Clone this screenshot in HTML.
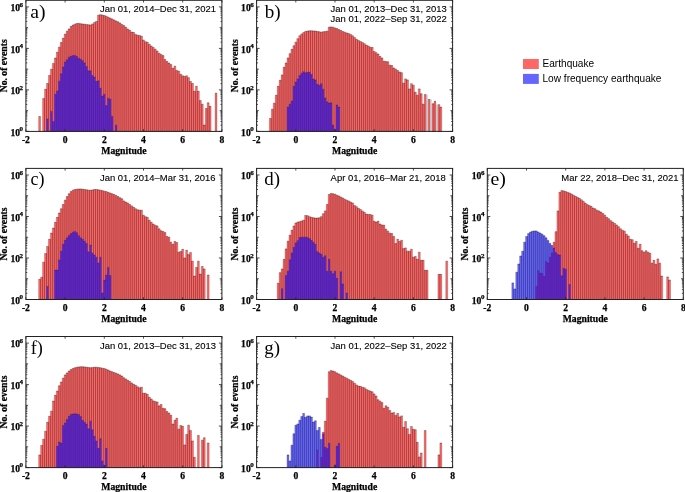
<!DOCTYPE html>
<html><head><meta charset="utf-8"><title>Magnitude histograms</title>
<style>html,body{margin:0;padding:0;background:#fff;width:685px;height:492px;overflow:hidden}svg{display:block;will-change:transform}</style>
</head><body>
<svg width="685" height="492" viewBox="0 0 685 492">
<style>.tb{font-family:"Liberation Serif";font-weight:bold;fill:#000;stroke:#000;stroke-width:0.25px}.ds{font-family:"Liberation Sans";fill:#000;stroke:#000;stroke-width:0.12px}</style>
<rect width="685" height="492" fill="#fff"/>
<path d="M38.64 131.4V116.5h1.96V131.4ZM42.56 131.4V98.6h1.96V131.4ZM44.52 131.4V89.3h1.96V131.4ZM46.48 131.4V83.5h1.96V131.4ZM48.44 131.4V75.4h1.96V131.4ZM50.4 131.4V69.2h1.96V131.4ZM52.36 131.4V63.4h1.96V131.4ZM54.32 131.4V58.05h1.96V131.4ZM56.28 131.4V52.2h1.96V131.4ZM58.24 131.4V47.2h1.96V131.4ZM60.2 131.4V42.5h1.96V131.4ZM62.16 131.4V38.3h1.96V131.4ZM64.12 131.4V34.2h1.96V131.4ZM66.08 131.4V31.2h1.96V131.4ZM68.04 131.4V29h1.96V131.4ZM70 131.4V26.5h1.96V131.4ZM71.96 131.4V25.1h1.96V131.4ZM73.92 131.4V24.2h1.96V131.4ZM75.88 131.4V23.5h1.96V131.4ZM77.84 131.4V23.4h1.96V131.4ZM79.8 131.4V23.7h1.96V131.4ZM81.76 131.4V24h1.96V131.4ZM83.72 131.4V24.2h1.96V131.4ZM85.68 131.4V24.55h1.96V131.4ZM87.64 131.4V24.8h1.96V131.4ZM89.6 131.4V24.9h1.96V131.4ZM91.56 131.4V23.9h1.96V131.4ZM93.52 131.4V22.4h1.96V131.4ZM95.48 131.4V21.4h1.96V131.4ZM97.44 131.4V15.2h1.96V131.4ZM99.4 131.4V14.7h1.96V131.4ZM101.36 131.4V15h1.96V131.4ZM103.32 131.4V15.6h1.96V131.4ZM105.28 131.4V16.2h1.96V131.4ZM107.24 131.4V17.2h1.96V131.4ZM109.2 131.4V18.1h1.96V131.4ZM111.16 131.4V18.9h1.96V131.4ZM113.12 131.4V19.9h1.96V131.4ZM115.08 131.4V20.9h1.96V131.4ZM117.04 131.4V21.8h1.96V131.4ZM119 131.4V23h1.96V131.4ZM120.96 131.4V24.4h1.96V131.4ZM122.92 131.4V25.6h1.96V131.4ZM124.88 131.4V27.3h1.96V131.4ZM126.84 131.4V29h1.96V131.4ZM128.8 131.4V30.3h1.96V131.4ZM130.76 131.4V32.1h1.96V131.4ZM132.72 131.4V32.5h1.96V131.4ZM134.68 131.4V34.6h1.96V131.4ZM136.64 131.4V35.2h1.96V131.4ZM138.6 131.4V35.4h1.96V131.4ZM140.56 131.4V36.25h1.96V131.4ZM142.52 131.4V40h1.96V131.4ZM144.48 131.4V41.7h1.96V131.4ZM146.44 131.4V42.3h1.96V131.4ZM148.4 131.4V44.3h1.96V131.4ZM150.36 131.4V46h1.96V131.4ZM152.32 131.4V47.5h1.96V131.4ZM154.28 131.4V49.2h1.96V131.4ZM156.24 131.4V51h1.96V131.4ZM158.2 131.4V53.2h1.96V131.4ZM160.16 131.4V54.4h1.96V131.4ZM162.12 131.4V55.6h1.96V131.4ZM164.08 131.4V59.5h1.96V131.4ZM166.04 131.4V61.5h1.96V131.4ZM168 131.4V63.1h1.96V131.4ZM169.96 131.4V64.4h1.96V131.4ZM171.92 131.4V68.3h1.96V131.4ZM173.88 131.4V66.2h1.96V131.4ZM175.84 131.4V70.4h1.96V131.4ZM177.8 131.4V71.25h1.96V131.4ZM179.76 131.4V74.2h1.96V131.4ZM181.72 131.4V75.8h1.96V131.4ZM183.68 131.4V76.5h1.96V131.4ZM185.64 131.4V75.8h1.96V131.4ZM187.6 131.4V77.7h1.96V131.4ZM189.56 131.4V81.5h1.96V131.4ZM191.52 131.4V83.5h1.96V131.4ZM193.48 131.4V91.25h1.96V131.4ZM195.44 131.4V86.25h1.96V131.4ZM197.4 131.4V91.25h1.96V131.4ZM199.36 131.4V100.6h1.96V131.4ZM201.32 131.4V104.2h1.96V131.4ZM203.28 131.4V125h1.96V131.4ZM205.24 131.4V108.5h1.96V131.4ZM207.2 131.4V102.8h1.96V131.4ZM209.16 131.4V106.3h1.96V131.4ZM215.04 131.4V93.2h1.96V131.4Z" fill="#ff0000" fill-opacity="0.6"/>
<mask id="mba" maskUnits="userSpaceOnUse" x="0" y="0" width="685" height="492"><rect width="685" height="492" fill="#fff"/><path d="M46.48 131.4V118.9h1.96V131.4ZM50.4 131.4V111.4h1.96V131.4ZM52.36 131.4V121.4h1.96V131.4ZM54.32 131.4V94.3h1.96V131.4ZM56.28 131.4V91h1.96V131.4ZM58.24 131.4V81.2h1.96V131.4ZM60.2 131.4V73.8h1.96V131.4ZM62.16 131.4V67h1.96V131.4ZM64.12 131.4V62.1h1.96V131.4ZM66.08 131.4V59.8h1.96V131.4ZM68.04 131.4V57.2h1.96V131.4ZM70 131.4V56.3h1.96V131.4ZM71.96 131.4V55.6h1.96V131.4ZM73.92 131.4V55.4h1.96V131.4ZM75.88 131.4V56.5h1.96V131.4ZM77.84 131.4V58.3h1.96V131.4ZM79.8 131.4V59.2h1.96V131.4ZM81.76 131.4V60.7h1.96V131.4ZM83.72 131.4V63h1.96V131.4ZM85.68 131.4V66.4h1.96V131.4ZM87.64 131.4V70.8h1.96V131.4ZM89.6 131.4V70.8h1.96V131.4ZM91.56 131.4V75.4h1.96V131.4ZM93.52 131.4V77.1h1.96V131.4ZM95.48 131.4V81.25h1.96V131.4ZM97.44 131.4V80.8h1.96V131.4ZM99.4 131.4V88.3h1.96V131.4ZM101.36 131.4V96h1.96V131.4ZM103.32 131.4V94.3h1.96V131.4ZM105.28 131.4V105.6h1.96V131.4ZM107.24 131.4V98.3h1.96V131.4ZM109.2 131.4V99.2h1.96V131.4ZM111.16 131.4V116.4h1.96V131.4ZM115.08 131.4V125.2h1.96V131.4Z" fill="#666"/></mask>
<path d="M38.64 131.4V116.5h1.96V131.4ZM42.56 131.4V98.6h1.96V131.4ZM44.52 131.4V89.3h1.96V131.4ZM46.48 131.4V83.5h1.96V131.4ZM48.44 131.4V75.4h1.96V131.4ZM50.4 131.4V69.2h1.96V131.4ZM52.36 131.4V63.4h1.96V131.4ZM54.32 131.4V58.05h1.96V131.4ZM56.28 131.4V52.2h1.96V131.4ZM58.24 131.4V47.2h1.96V131.4ZM60.2 131.4V42.5h1.96V131.4ZM62.16 131.4V38.3h1.96V131.4ZM64.12 131.4V34.2h1.96V131.4ZM66.08 131.4V31.2h1.96V131.4ZM68.04 131.4V29h1.96V131.4ZM70 131.4V26.5h1.96V131.4ZM71.96 131.4V25.1h1.96V131.4ZM73.92 131.4V24.2h1.96V131.4ZM75.88 131.4V23.5h1.96V131.4ZM77.84 131.4V23.4h1.96V131.4ZM79.8 131.4V23.7h1.96V131.4ZM81.76 131.4V24h1.96V131.4ZM83.72 131.4V24.2h1.96V131.4ZM85.68 131.4V24.55h1.96V131.4ZM87.64 131.4V24.8h1.96V131.4ZM89.6 131.4V24.9h1.96V131.4ZM91.56 131.4V23.9h1.96V131.4ZM93.52 131.4V22.4h1.96V131.4ZM95.48 131.4V21.4h1.96V131.4ZM97.44 131.4V15.2h1.96V131.4ZM99.4 131.4V14.7h1.96V131.4ZM101.36 131.4V15h1.96V131.4ZM103.32 131.4V15.6h1.96V131.4ZM105.28 131.4V16.2h1.96V131.4ZM107.24 131.4V17.2h1.96V131.4ZM109.2 131.4V18.1h1.96V131.4ZM111.16 131.4V18.9h1.96V131.4ZM113.12 131.4V19.9h1.96V131.4ZM115.08 131.4V20.9h1.96V131.4ZM117.04 131.4V21.8h1.96V131.4ZM119 131.4V23h1.96V131.4ZM120.96 131.4V24.4h1.96V131.4ZM122.92 131.4V25.6h1.96V131.4ZM124.88 131.4V27.3h1.96V131.4ZM126.84 131.4V29h1.96V131.4ZM128.8 131.4V30.3h1.96V131.4ZM130.76 131.4V32.1h1.96V131.4ZM132.72 131.4V32.5h1.96V131.4ZM134.68 131.4V34.6h1.96V131.4ZM136.64 131.4V35.2h1.96V131.4ZM138.6 131.4V35.4h1.96V131.4ZM140.56 131.4V36.25h1.96V131.4ZM142.52 131.4V40h1.96V131.4ZM144.48 131.4V41.7h1.96V131.4ZM146.44 131.4V42.3h1.96V131.4ZM148.4 131.4V44.3h1.96V131.4ZM150.36 131.4V46h1.96V131.4ZM152.32 131.4V47.5h1.96V131.4ZM154.28 131.4V49.2h1.96V131.4ZM156.24 131.4V51h1.96V131.4ZM158.2 131.4V53.2h1.96V131.4ZM160.16 131.4V54.4h1.96V131.4ZM162.12 131.4V55.6h1.96V131.4ZM164.08 131.4V59.5h1.96V131.4ZM166.04 131.4V61.5h1.96V131.4ZM168 131.4V63.1h1.96V131.4ZM169.96 131.4V64.4h1.96V131.4ZM171.92 131.4V68.3h1.96V131.4ZM173.88 131.4V66.2h1.96V131.4ZM175.84 131.4V70.4h1.96V131.4ZM177.8 131.4V71.25h1.96V131.4ZM179.76 131.4V74.2h1.96V131.4ZM181.72 131.4V75.8h1.96V131.4ZM183.68 131.4V76.5h1.96V131.4ZM185.64 131.4V75.8h1.96V131.4ZM187.6 131.4V77.7h1.96V131.4ZM189.56 131.4V81.5h1.96V131.4ZM191.52 131.4V83.5h1.96V131.4ZM193.48 131.4V91.25h1.96V131.4ZM195.44 131.4V86.25h1.96V131.4ZM197.4 131.4V91.25h1.96V131.4ZM199.36 131.4V100.6h1.96V131.4ZM201.32 131.4V104.2h1.96V131.4ZM203.28 131.4V125h1.96V131.4ZM205.24 131.4V108.5h1.96V131.4ZM207.2 131.4V102.8h1.96V131.4ZM209.16 131.4V106.3h1.96V131.4ZM215.04 131.4V93.2h1.96V131.4Z" fill="none" stroke="#000" stroke-width="0.35" stroke-opacity="0.55" mask="url(#mba)"/>
<path d="M38.64 116.5h1.96M42.56 98.6h1.96M44.52 89.3h1.96M46.48 83.5h1.96M48.44 75.4h1.96M50.4 69.2h1.96M52.36 63.4h1.96M54.32 58.05h1.96M56.28 52.2h1.96M58.24 47.2h1.96M60.2 42.5h1.96M62.16 38.3h1.96M64.12 34.2h1.96M66.08 31.2h1.96M68.04 29h1.96M70 26.5h1.96M71.96 25.1h1.96M73.92 24.2h1.96M75.88 23.5h1.96M77.84 23.4h1.96M79.8 23.7h1.96M81.76 24h1.96M83.72 24.2h1.96M85.68 24.55h1.96M87.64 24.8h1.96M89.6 24.9h1.96M91.56 23.9h1.96M93.52 22.4h1.96M95.48 21.4h1.96M97.44 15.2h1.96M99.4 14.7h1.96M101.36 15h1.96M103.32 15.6h1.96M105.28 16.2h1.96M107.24 17.2h1.96M109.2 18.1h1.96M111.16 18.9h1.96M113.12 19.9h1.96M115.08 20.9h1.96M117.04 21.8h1.96M119 23h1.96M120.96 24.4h1.96M122.92 25.6h1.96M124.88 27.3h1.96M126.84 29h1.96M128.8 30.3h1.96M130.76 32.1h1.96M132.72 32.5h1.96M134.68 34.6h1.96M136.64 35.2h1.96M138.6 35.4h1.96M140.56 36.25h1.96M142.52 40h1.96M144.48 41.7h1.96M146.44 42.3h1.96M148.4 44.3h1.96M150.36 46h1.96M152.32 47.5h1.96M154.28 49.2h1.96M156.24 51h1.96M158.2 53.2h1.96M160.16 54.4h1.96M162.12 55.6h1.96M164.08 59.5h1.96M166.04 61.5h1.96M168 63.1h1.96M169.96 64.4h1.96M171.92 68.3h1.96M173.88 66.2h1.96M175.84 70.4h1.96M177.8 71.25h1.96M179.76 74.2h1.96M181.72 75.8h1.96M183.68 76.5h1.96M185.64 75.8h1.96M187.6 77.7h1.96M189.56 81.5h1.96M191.52 83.5h1.96M193.48 91.25h1.96M195.44 86.25h1.96M197.4 91.25h1.96M199.36 100.6h1.96M201.32 104.2h1.96M203.28 125h1.96M205.24 108.5h1.96M207.2 102.8h1.96M209.16 106.3h1.96M215.04 93.2h1.96" fill="none" stroke="#000" stroke-width="0.45" stroke-opacity="0.4"/>
<mask id="ma" maskUnits="userSpaceOnUse" x="0" y="0" width="685" height="492"><rect width="685" height="492" fill="#fff"/><path d="M38.64 131.4V116.5h1.96V131.4ZM42.56 131.4V98.6h1.96V131.4ZM44.52 131.4V89.3h1.96V131.4ZM46.48 131.4V83.5h1.96V131.4ZM48.44 131.4V75.4h1.96V131.4ZM50.4 131.4V69.2h1.96V131.4ZM52.36 131.4V63.4h1.96V131.4ZM54.32 131.4V58.05h1.96V131.4ZM56.28 131.4V52.2h1.96V131.4ZM58.24 131.4V47.2h1.96V131.4ZM60.2 131.4V42.5h1.96V131.4ZM62.16 131.4V38.3h1.96V131.4ZM64.12 131.4V34.2h1.96V131.4ZM66.08 131.4V31.2h1.96V131.4ZM68.04 131.4V29h1.96V131.4ZM70 131.4V26.5h1.96V131.4ZM71.96 131.4V25.1h1.96V131.4ZM73.92 131.4V24.2h1.96V131.4ZM75.88 131.4V23.5h1.96V131.4ZM77.84 131.4V23.4h1.96V131.4ZM79.8 131.4V23.7h1.96V131.4ZM81.76 131.4V24h1.96V131.4ZM83.72 131.4V24.2h1.96V131.4ZM85.68 131.4V24.55h1.96V131.4ZM87.64 131.4V24.8h1.96V131.4ZM89.6 131.4V24.9h1.96V131.4ZM91.56 131.4V23.9h1.96V131.4ZM93.52 131.4V22.4h1.96V131.4ZM95.48 131.4V21.4h1.96V131.4ZM97.44 131.4V15.2h1.96V131.4ZM99.4 131.4V14.7h1.96V131.4ZM101.36 131.4V15h1.96V131.4ZM103.32 131.4V15.6h1.96V131.4ZM105.28 131.4V16.2h1.96V131.4ZM107.24 131.4V17.2h1.96V131.4ZM109.2 131.4V18.1h1.96V131.4ZM111.16 131.4V18.9h1.96V131.4ZM113.12 131.4V19.9h1.96V131.4ZM115.08 131.4V20.9h1.96V131.4ZM117.04 131.4V21.8h1.96V131.4ZM119 131.4V23h1.96V131.4ZM120.96 131.4V24.4h1.96V131.4ZM122.92 131.4V25.6h1.96V131.4ZM124.88 131.4V27.3h1.96V131.4ZM126.84 131.4V29h1.96V131.4ZM128.8 131.4V30.3h1.96V131.4ZM130.76 131.4V32.1h1.96V131.4ZM132.72 131.4V32.5h1.96V131.4ZM134.68 131.4V34.6h1.96V131.4ZM136.64 131.4V35.2h1.96V131.4ZM138.6 131.4V35.4h1.96V131.4ZM140.56 131.4V36.25h1.96V131.4ZM142.52 131.4V40h1.96V131.4ZM144.48 131.4V41.7h1.96V131.4ZM146.44 131.4V42.3h1.96V131.4ZM148.4 131.4V44.3h1.96V131.4ZM150.36 131.4V46h1.96V131.4ZM152.32 131.4V47.5h1.96V131.4ZM154.28 131.4V49.2h1.96V131.4ZM156.24 131.4V51h1.96V131.4ZM158.2 131.4V53.2h1.96V131.4ZM160.16 131.4V54.4h1.96V131.4ZM162.12 131.4V55.6h1.96V131.4ZM164.08 131.4V59.5h1.96V131.4ZM166.04 131.4V61.5h1.96V131.4ZM168 131.4V63.1h1.96V131.4ZM169.96 131.4V64.4h1.96V131.4ZM171.92 131.4V68.3h1.96V131.4ZM173.88 131.4V66.2h1.96V131.4ZM175.84 131.4V70.4h1.96V131.4ZM177.8 131.4V71.25h1.96V131.4ZM179.76 131.4V74.2h1.96V131.4ZM181.72 131.4V75.8h1.96V131.4ZM183.68 131.4V76.5h1.96V131.4ZM185.64 131.4V75.8h1.96V131.4ZM187.6 131.4V77.7h1.96V131.4ZM189.56 131.4V81.5h1.96V131.4ZM191.52 131.4V83.5h1.96V131.4ZM193.48 131.4V91.25h1.96V131.4ZM195.44 131.4V86.25h1.96V131.4ZM197.4 131.4V91.25h1.96V131.4ZM199.36 131.4V100.6h1.96V131.4ZM201.32 131.4V104.2h1.96V131.4ZM203.28 131.4V125h1.96V131.4ZM205.24 131.4V108.5h1.96V131.4ZM207.2 131.4V102.8h1.96V131.4ZM209.16 131.4V106.3h1.96V131.4ZM215.04 131.4V93.2h1.96V131.4Z" fill="#444" stroke="#444" stroke-width="0.4"/></mask>
<path d="M46.48 131.4V118.9h1.96V131.4ZM50.4 131.4V111.4h1.96V131.4ZM52.36 131.4V121.4h1.96V131.4ZM54.32 131.4V94.3h1.96V131.4ZM56.28 131.4V91h1.96V131.4ZM58.24 131.4V81.2h1.96V131.4ZM60.2 131.4V73.8h1.96V131.4ZM62.16 131.4V67h1.96V131.4ZM64.12 131.4V62.1h1.96V131.4ZM66.08 131.4V59.8h1.96V131.4ZM68.04 131.4V57.2h1.96V131.4ZM70 131.4V56.3h1.96V131.4ZM71.96 131.4V55.6h1.96V131.4ZM73.92 131.4V55.4h1.96V131.4ZM75.88 131.4V56.5h1.96V131.4ZM77.84 131.4V58.3h1.96V131.4ZM79.8 131.4V59.2h1.96V131.4ZM81.76 131.4V60.7h1.96V131.4ZM83.72 131.4V63h1.96V131.4ZM85.68 131.4V66.4h1.96V131.4ZM87.64 131.4V70.8h1.96V131.4ZM89.6 131.4V70.8h1.96V131.4ZM91.56 131.4V75.4h1.96V131.4ZM93.52 131.4V77.1h1.96V131.4ZM95.48 131.4V81.25h1.96V131.4ZM97.44 131.4V80.8h1.96V131.4ZM99.4 131.4V88.3h1.96V131.4ZM101.36 131.4V96h1.96V131.4ZM103.32 131.4V94.3h1.96V131.4ZM105.28 131.4V105.6h1.96V131.4ZM107.24 131.4V98.3h1.96V131.4ZM109.2 131.4V99.2h1.96V131.4ZM111.16 131.4V116.4h1.96V131.4ZM115.08 131.4V125.2h1.96V131.4Z" fill="#0000ff" fill-opacity="0.6"/>
<path d="M46.48 131.4V118.9h1.96V131.4ZM50.4 131.4V111.4h1.96V131.4ZM52.36 131.4V121.4h1.96V131.4ZM54.32 131.4V94.3h1.96V131.4ZM56.28 131.4V91h1.96V131.4ZM58.24 131.4V81.2h1.96V131.4ZM60.2 131.4V73.8h1.96V131.4ZM62.16 131.4V67h1.96V131.4ZM64.12 131.4V62.1h1.96V131.4ZM66.08 131.4V59.8h1.96V131.4ZM68.04 131.4V57.2h1.96V131.4ZM70 131.4V56.3h1.96V131.4ZM71.96 131.4V55.6h1.96V131.4ZM73.92 131.4V55.4h1.96V131.4ZM75.88 131.4V56.5h1.96V131.4ZM77.84 131.4V58.3h1.96V131.4ZM79.8 131.4V59.2h1.96V131.4ZM81.76 131.4V60.7h1.96V131.4ZM83.72 131.4V63h1.96V131.4ZM85.68 131.4V66.4h1.96V131.4ZM87.64 131.4V70.8h1.96V131.4ZM89.6 131.4V70.8h1.96V131.4ZM91.56 131.4V75.4h1.96V131.4ZM93.52 131.4V77.1h1.96V131.4ZM95.48 131.4V81.25h1.96V131.4ZM97.44 131.4V80.8h1.96V131.4ZM99.4 131.4V88.3h1.96V131.4ZM101.36 131.4V96h1.96V131.4ZM103.32 131.4V94.3h1.96V131.4ZM105.28 131.4V105.6h1.96V131.4ZM107.24 131.4V98.3h1.96V131.4ZM109.2 131.4V99.2h1.96V131.4ZM111.16 131.4V116.4h1.96V131.4ZM115.08 131.4V125.2h1.96V131.4Z" fill="none" stroke="#000" stroke-width="0.35" stroke-opacity="0.55" mask="url(#ma)"/>
<path d="M46.48 118.9h1.96M50.4 111.4h1.96M52.36 121.4h1.96M54.32 94.3h1.96M56.28 91h1.96M58.24 81.2h1.96M60.2 73.8h1.96M62.16 67h1.96M64.12 62.1h1.96M66.08 59.8h1.96M68.04 57.2h1.96M70 56.3h1.96M71.96 55.6h1.96M73.92 55.4h1.96M75.88 56.5h1.96M77.84 58.3h1.96M79.8 59.2h1.96M81.76 60.7h1.96M83.72 63h1.96M85.68 66.4h1.96M87.64 70.8h1.96M89.6 70.8h1.96M91.56 75.4h1.96M93.52 77.1h1.96M95.48 81.25h1.96M97.44 80.8h1.96M99.4 88.3h1.96M101.36 96h1.96M103.32 94.3h1.96M105.28 105.6h1.96M107.24 98.3h1.96M109.2 99.2h1.96M111.16 116.4h1.96M115.08 125.2h1.96" fill="none" stroke="#000" stroke-width="0.45" stroke-opacity="0.4"/>
<rect x="25.9" y="0.3" width="196" height="131.1" fill="none" stroke="#222" stroke-width="1"/>
<path d="M25.9 131.4v-2.2M25.9 0.3v2.2M65.1 131.4v-2.2M65.1 0.3v2.2M104.3 131.4v-2.2M104.3 0.3v2.2M143.5 131.4v-2.2M143.5 0.3v2.2M182.7 131.4v-2.2M182.7 0.3v2.2M221.9 131.4v-2.2M221.9 0.3v2.2M25.9 131.4h3.0M221.9 131.4h-3.0M25.9 125.15h1.4M221.9 125.15h-1.4M25.9 121.5h1.4M221.9 121.5h-1.4M25.9 118.91h1.4M221.9 118.91h-1.4M25.9 116.9h1.4M221.9 116.9h-1.4M25.9 115.25h1.4M221.9 115.25h-1.4M25.9 113.86h1.4M221.9 113.86h-1.4M25.9 112.66h1.4M221.9 112.66h-1.4M25.9 111.6h1.4M221.9 111.6h-1.4M25.9 110.65h2.2M221.9 110.65h-2.2M25.9 104.4h1.4M221.9 104.4h-1.4M25.9 100.75h1.4M221.9 100.75h-1.4M25.9 98.16h1.4M221.9 98.16h-1.4M25.9 96.15h1.4M221.9 96.15h-1.4M25.9 94.5h1.4M221.9 94.5h-1.4M25.9 93.11h1.4M221.9 93.11h-1.4M25.9 91.91h1.4M221.9 91.91h-1.4M25.9 90.85h1.4M221.9 90.85h-1.4M25.9 89.9h3.0M221.9 89.9h-3.0M25.9 83.65h1.4M221.9 83.65h-1.4M25.9 80h1.4M221.9 80h-1.4M25.9 77.41h1.4M221.9 77.41h-1.4M25.9 75.4h1.4M221.9 75.4h-1.4M25.9 73.75h1.4M221.9 73.75h-1.4M25.9 72.36h1.4M221.9 72.36h-1.4M25.9 71.16h1.4M221.9 71.16h-1.4M25.9 70.1h1.4M221.9 70.1h-1.4M25.9 69.15h2.2M221.9 69.15h-2.2M25.9 62.9h1.4M221.9 62.9h-1.4M25.9 59.25h1.4M221.9 59.25h-1.4M25.9 56.66h1.4M221.9 56.66h-1.4M25.9 54.65h1.4M221.9 54.65h-1.4M25.9 53h1.4M221.9 53h-1.4M25.9 51.61h1.4M221.9 51.61h-1.4M25.9 50.41h1.4M221.9 50.41h-1.4M25.9 49.35h1.4M221.9 49.35h-1.4M25.9 48.4h3.0M221.9 48.4h-3.0M25.9 42.15h1.4M221.9 42.15h-1.4M25.9 38.5h1.4M221.9 38.5h-1.4M25.9 35.91h1.4M221.9 35.91h-1.4M25.9 33.9h1.4M221.9 33.9h-1.4M25.9 32.25h1.4M221.9 32.25h-1.4M25.9 30.86h1.4M221.9 30.86h-1.4M25.9 29.66h1.4M221.9 29.66h-1.4M25.9 28.6h1.4M221.9 28.6h-1.4M25.9 27.65h2.2M221.9 27.65h-2.2M25.9 21.4h1.4M221.9 21.4h-1.4M25.9 17.75h1.4M221.9 17.75h-1.4M25.9 15.16h1.4M221.9 15.16h-1.4M25.9 13.15h1.4M221.9 13.15h-1.4M25.9 11.5h1.4M221.9 11.5h-1.4M25.9 10.11h1.4M221.9 10.11h-1.4M25.9 8.91h1.4M221.9 8.91h-1.4M25.9 7.85h1.4M221.9 7.85h-1.4M25.9 6.9h3.0M221.9 6.9h-3.0" stroke="#222" stroke-width="0.8" fill="none"/>
<g class="tb" font-size="9.6"><text x="25.9" y="142.7" text-anchor="middle">-2</text><text x="65.1" y="142.7" text-anchor="middle">0</text><text x="104.3" y="142.7" text-anchor="middle">2</text><text x="143.5" y="142.7" text-anchor="middle">4</text><text x="182.7" y="142.7" text-anchor="middle">6</text><text x="221.9" y="142.7" text-anchor="middle">8</text><text x="20" y="135.7" text-anchor="end">10</text><text x="19.6" y="131.1" font-size="7">0</text><text x="20" y="94.2" text-anchor="end">10</text><text x="19.6" y="89.6" font-size="7">2</text><text x="20" y="52.7" text-anchor="end">10</text><text x="19.6" y="48.1" font-size="7">4</text><text x="20" y="11.2" text-anchor="end">10</text><text x="19.6" y="6.6" font-size="7">6</text></g>
<text x="123.9" y="153.5" text-anchor="middle" class="tb" font-size="9.7">Magnitude</text>
<text transform="translate(6.8,65.85) rotate(-90)" text-anchor="middle" class="tb" font-size="9.7">No. of events</text>
<text transform="translate(30.3,18.4) scale(1.08,1)" font-family="Liberation Serif" font-size="18.2">a)</text>
<text transform="translate(99.9,12.45) scale(0.957,1)" text-anchor="start" class="ds" font-size="9.9">Jan 01, 2014–Dec 31, 2021</text>
<path d="M426.14 131.4V94.5h1.96V131.4ZM430.06 131.4V99.3h1.96V131.4ZM435.94 131.4V104.6h1.96V131.4Z" fill="#d9dde2"/>
<path d="M269.34 131.4V118.51h1.96V131.4ZM271.3 131.4V109.21h1.96V131.4ZM273.26 131.4V103.2h1.96V131.4ZM275.22 131.4V95.19h1.96V131.4ZM277.18 131.4V86.32h1.96V131.4ZM279.14 131.4V80.31h1.96V131.4ZM281.1 131.4V74.88h1.96V131.4ZM283.06 131.4V67.24h1.96V131.4ZM285.02 131.4V62.95h1.96V131.4ZM286.98 131.4V57.94h1.96V131.4ZM288.94 131.4V53.65h1.96V131.4ZM290.9 131.4V49.36h1.96V131.4ZM292.86 131.4V45.78h1.96V131.4ZM294.82 131.4V42.2h1.96V131.4ZM296.78 131.4V38.63h1.96V131.4ZM298.74 131.4V35.77h1.96V131.4ZM300.7 131.4V33.91h1.96V131.4ZM302.66 131.4V32.62h1.96V131.4ZM304.62 131.4V31.47h1.96V131.4ZM306.58 131.4V31.05h1.96V131.4ZM308.54 131.4V30.76h1.96V131.4ZM310.5 131.4V30.76h1.96V131.4ZM312.46 131.4V30.9h1.96V131.4ZM314.42 131.4V31.05h1.96V131.4ZM316.38 131.4V31.47h1.96V131.4ZM318.34 131.4V31.76h1.96V131.4ZM320.3 131.4V32.19h1.96V131.4ZM322.26 131.4V31.76h1.96V131.4ZM324.22 131.4V31.47h1.96V131.4ZM326.18 131.4V31.19h1.96V131.4ZM328.14 131.4V27.18h1.96V131.4ZM330.1 131.4V26.9h1.96V131.4ZM332.06 131.4V27.18h1.96V131.4ZM334.02 131.4V27.9h1.96V131.4ZM335.98 131.4V28.61h1.96V131.4ZM337.94 131.4V29.61h1.96V131.4ZM339.9 131.4V30.47h1.96V131.4ZM341.86 131.4V31.47h1.96V131.4ZM343.82 131.4V32.19h1.96V131.4ZM345.78 131.4V32.91h1.96V131.4ZM347.74 131.4V33.62h1.96V131.4ZM349.7 131.4V34.62h1.96V131.4ZM351.66 131.4V35.77h1.96V131.4ZM353.62 131.4V37.48h1.96V131.4ZM355.58 131.4V39.34h1.96V131.4ZM357.54 131.4V40.49h1.96V131.4ZM359.5 131.4V41.49h1.96V131.4ZM361.46 131.4V42.49h1.96V131.4ZM363.42 131.4V43.64h1.96V131.4ZM365.38 131.4V45.07h1.96V131.4ZM367.34 131.4V46.07h1.96V131.4ZM369.3 131.4V47.21h1.96V131.4ZM371.26 131.4V47.5h1.96V131.4ZM373.22 131.4V51.5h1.96V131.4ZM375.18 131.4V52.65h1.96V131.4ZM377.14 131.4V54.08h1.96V131.4ZM379.1 131.4V56.51h1.96V131.4ZM381.06 131.4V57.94h1.96V131.4ZM383.02 131.4V61.23h1.96V131.4ZM384.98 131.4V61.52h1.96V131.4ZM386.94 131.4V61.8h1.96V131.4ZM388.9 131.4V65.15h1.96V131.4ZM390.86 131.4V65.58h1.96V131.4ZM392.82 131.4V68.01h1.96V131.4ZM394.78 131.4V69.15h1.96V131.4ZM396.74 131.4V70.58h1.96V131.4ZM398.7 131.4V72.01h1.96V131.4ZM400.66 131.4V72.73h1.96V131.4ZM402.62 131.4V83.17h1.96V131.4ZM404.58 131.4V78.88h1.96V131.4ZM406.54 131.4V79.88h1.96V131.4ZM408.5 131.4V88.9h1.96V131.4ZM410.46 131.4V83.75h1.96V131.4ZM412.42 131.4V85.18h1.96V131.4ZM414.38 131.4V92.33h1.96V131.4ZM416.34 131.4V95.19h1.96V131.4ZM418.3 131.4V88.9h1.96V131.4ZM420.26 131.4V93.76h1.96V131.4ZM422.22 131.4V104.2h1.96V131.4ZM424.18 131.4V94.62h1.96V131.4ZM428.1 131.4V99.48h1.96V131.4ZM432.02 131.4V103.78h1.96V131.4ZM433.98 131.4V101.34h1.96V131.4ZM437.9 131.4V104.63h1.96V131.4ZM439.86 131.4V107.07h1.96V131.4Z" fill="#ff0000" fill-opacity="0.6"/>
<mask id="mbb" maskUnits="userSpaceOnUse" x="0" y="0" width="685" height="492"><rect width="685" height="492" fill="#fff"/><path d="M286.98 131.4V107.07h1.96V131.4ZM288.94 131.4V104.2h1.96V131.4ZM290.9 131.4V100.91h1.96V131.4ZM292.86 131.4V86.32h1.96V131.4ZM294.82 131.4V82.03h1.96V131.4ZM296.78 131.4V78.88h1.96V131.4ZM298.74 131.4V75.59h1.96V131.4ZM300.7 131.4V73.16h1.96V131.4ZM302.66 131.4V71.73h1.96V131.4ZM304.62 131.4V72.73h1.96V131.4ZM306.58 131.4V72.3h1.96V131.4ZM308.54 131.4V72.3h1.96V131.4ZM310.5 131.4V74.59h1.96V131.4ZM312.46 131.4V78.88h1.96V131.4ZM314.42 131.4V79.88h1.96V131.4ZM316.38 131.4V84.18h1.96V131.4ZM318.34 131.4V85.18h1.96V131.4ZM320.3 131.4V83.75h1.96V131.4ZM322.26 131.4V89.18h1.96V131.4ZM324.22 131.4V98.05h1.96V131.4ZM326.18 131.4V101.77h1.96V131.4ZM328.14 131.4V103.06h1.96V131.4ZM330.1 131.4V102.77h1.96V131.4ZM332.06 131.4V124.95h1.96V131.4ZM334.02 131.4V129.24h1.96V131.4ZM335.98 131.4V104.92h1.96V131.4ZM337.94 131.4V107.07h1.96V131.4Z" fill="#666"/></mask>
<path d="M269.34 131.4V118.51h1.96V131.4ZM271.3 131.4V109.21h1.96V131.4ZM273.26 131.4V103.2h1.96V131.4ZM275.22 131.4V95.19h1.96V131.4ZM277.18 131.4V86.32h1.96V131.4ZM279.14 131.4V80.31h1.96V131.4ZM281.1 131.4V74.88h1.96V131.4ZM283.06 131.4V67.24h1.96V131.4ZM285.02 131.4V62.95h1.96V131.4ZM286.98 131.4V57.94h1.96V131.4ZM288.94 131.4V53.65h1.96V131.4ZM290.9 131.4V49.36h1.96V131.4ZM292.86 131.4V45.78h1.96V131.4ZM294.82 131.4V42.2h1.96V131.4ZM296.78 131.4V38.63h1.96V131.4ZM298.74 131.4V35.77h1.96V131.4ZM300.7 131.4V33.91h1.96V131.4ZM302.66 131.4V32.62h1.96V131.4ZM304.62 131.4V31.47h1.96V131.4ZM306.58 131.4V31.05h1.96V131.4ZM308.54 131.4V30.76h1.96V131.4ZM310.5 131.4V30.76h1.96V131.4ZM312.46 131.4V30.9h1.96V131.4ZM314.42 131.4V31.05h1.96V131.4ZM316.38 131.4V31.47h1.96V131.4ZM318.34 131.4V31.76h1.96V131.4ZM320.3 131.4V32.19h1.96V131.4ZM322.26 131.4V31.76h1.96V131.4ZM324.22 131.4V31.47h1.96V131.4ZM326.18 131.4V31.19h1.96V131.4ZM328.14 131.4V27.18h1.96V131.4ZM330.1 131.4V26.9h1.96V131.4ZM332.06 131.4V27.18h1.96V131.4ZM334.02 131.4V27.9h1.96V131.4ZM335.98 131.4V28.61h1.96V131.4ZM337.94 131.4V29.61h1.96V131.4ZM339.9 131.4V30.47h1.96V131.4ZM341.86 131.4V31.47h1.96V131.4ZM343.82 131.4V32.19h1.96V131.4ZM345.78 131.4V32.91h1.96V131.4ZM347.74 131.4V33.62h1.96V131.4ZM349.7 131.4V34.62h1.96V131.4ZM351.66 131.4V35.77h1.96V131.4ZM353.62 131.4V37.48h1.96V131.4ZM355.58 131.4V39.34h1.96V131.4ZM357.54 131.4V40.49h1.96V131.4ZM359.5 131.4V41.49h1.96V131.4ZM361.46 131.4V42.49h1.96V131.4ZM363.42 131.4V43.64h1.96V131.4ZM365.38 131.4V45.07h1.96V131.4ZM367.34 131.4V46.07h1.96V131.4ZM369.3 131.4V47.21h1.96V131.4ZM371.26 131.4V47.5h1.96V131.4ZM373.22 131.4V51.5h1.96V131.4ZM375.18 131.4V52.65h1.96V131.4ZM377.14 131.4V54.08h1.96V131.4ZM379.1 131.4V56.51h1.96V131.4ZM381.06 131.4V57.94h1.96V131.4ZM383.02 131.4V61.23h1.96V131.4ZM384.98 131.4V61.52h1.96V131.4ZM386.94 131.4V61.8h1.96V131.4ZM388.9 131.4V65.15h1.96V131.4ZM390.86 131.4V65.58h1.96V131.4ZM392.82 131.4V68.01h1.96V131.4ZM394.78 131.4V69.15h1.96V131.4ZM396.74 131.4V70.58h1.96V131.4ZM398.7 131.4V72.01h1.96V131.4ZM400.66 131.4V72.73h1.96V131.4ZM402.62 131.4V83.17h1.96V131.4ZM404.58 131.4V78.88h1.96V131.4ZM406.54 131.4V79.88h1.96V131.4ZM408.5 131.4V88.9h1.96V131.4ZM410.46 131.4V83.75h1.96V131.4ZM412.42 131.4V85.18h1.96V131.4ZM414.38 131.4V92.33h1.96V131.4ZM416.34 131.4V95.19h1.96V131.4ZM418.3 131.4V88.9h1.96V131.4ZM420.26 131.4V93.76h1.96V131.4ZM422.22 131.4V104.2h1.96V131.4ZM424.18 131.4V94.62h1.96V131.4ZM428.1 131.4V99.48h1.96V131.4ZM432.02 131.4V103.78h1.96V131.4ZM433.98 131.4V101.34h1.96V131.4ZM437.9 131.4V104.63h1.96V131.4ZM439.86 131.4V107.07h1.96V131.4Z" fill="none" stroke="#000" stroke-width="0.35" stroke-opacity="0.55" mask="url(#mbb)"/>
<path d="M269.34 118.51h1.96M271.3 109.21h1.96M273.26 103.2h1.96M275.22 95.19h1.96M277.18 86.32h1.96M279.14 80.31h1.96M281.1 74.88h1.96M283.06 67.24h1.96M285.02 62.95h1.96M286.98 57.94h1.96M288.94 53.65h1.96M290.9 49.36h1.96M292.86 45.78h1.96M294.82 42.2h1.96M296.78 38.63h1.96M298.74 35.77h1.96M300.7 33.91h1.96M302.66 32.62h1.96M304.62 31.47h1.96M306.58 31.05h1.96M308.54 30.76h1.96M310.5 30.76h1.96M312.46 30.9h1.96M314.42 31.05h1.96M316.38 31.47h1.96M318.34 31.76h1.96M320.3 32.19h1.96M322.26 31.76h1.96M324.22 31.47h1.96M326.18 31.19h1.96M328.14 27.18h1.96M330.1 26.9h1.96M332.06 27.18h1.96M334.02 27.9h1.96M335.98 28.61h1.96M337.94 29.61h1.96M339.9 30.47h1.96M341.86 31.47h1.96M343.82 32.19h1.96M345.78 32.91h1.96M347.74 33.62h1.96M349.7 34.62h1.96M351.66 35.77h1.96M353.62 37.48h1.96M355.58 39.34h1.96M357.54 40.49h1.96M359.5 41.49h1.96M361.46 42.49h1.96M363.42 43.64h1.96M365.38 45.07h1.96M367.34 46.07h1.96M369.3 47.21h1.96M371.26 47.5h1.96M373.22 51.5h1.96M375.18 52.65h1.96M377.14 54.08h1.96M379.1 56.51h1.96M381.06 57.94h1.96M383.02 61.23h1.96M384.98 61.52h1.96M386.94 61.8h1.96M388.9 65.15h1.96M390.86 65.58h1.96M392.82 68.01h1.96M394.78 69.15h1.96M396.74 70.58h1.96M398.7 72.01h1.96M400.66 72.73h1.96M402.62 83.17h1.96M404.58 78.88h1.96M406.54 79.88h1.96M408.5 88.9h1.96M410.46 83.75h1.96M412.42 85.18h1.96M414.38 92.33h1.96M416.34 95.19h1.96M418.3 88.9h1.96M420.26 93.76h1.96M422.22 104.2h1.96M424.18 94.62h1.96M428.1 99.48h1.96M432.02 103.78h1.96M433.98 101.34h1.96M437.9 104.63h1.96M439.86 107.07h1.96" fill="none" stroke="#000" stroke-width="0.45" stroke-opacity="0.4"/>
<mask id="mb" maskUnits="userSpaceOnUse" x="0" y="0" width="685" height="492"><rect width="685" height="492" fill="#fff"/><path d="M269.34 131.4V118.51h1.96V131.4ZM271.3 131.4V109.21h1.96V131.4ZM273.26 131.4V103.2h1.96V131.4ZM275.22 131.4V95.19h1.96V131.4ZM277.18 131.4V86.32h1.96V131.4ZM279.14 131.4V80.31h1.96V131.4ZM281.1 131.4V74.88h1.96V131.4ZM283.06 131.4V67.24h1.96V131.4ZM285.02 131.4V62.95h1.96V131.4ZM286.98 131.4V57.94h1.96V131.4ZM288.94 131.4V53.65h1.96V131.4ZM290.9 131.4V49.36h1.96V131.4ZM292.86 131.4V45.78h1.96V131.4ZM294.82 131.4V42.2h1.96V131.4ZM296.78 131.4V38.63h1.96V131.4ZM298.74 131.4V35.77h1.96V131.4ZM300.7 131.4V33.91h1.96V131.4ZM302.66 131.4V32.62h1.96V131.4ZM304.62 131.4V31.47h1.96V131.4ZM306.58 131.4V31.05h1.96V131.4ZM308.54 131.4V30.76h1.96V131.4ZM310.5 131.4V30.76h1.96V131.4ZM312.46 131.4V30.9h1.96V131.4ZM314.42 131.4V31.05h1.96V131.4ZM316.38 131.4V31.47h1.96V131.4ZM318.34 131.4V31.76h1.96V131.4ZM320.3 131.4V32.19h1.96V131.4ZM322.26 131.4V31.76h1.96V131.4ZM324.22 131.4V31.47h1.96V131.4ZM326.18 131.4V31.19h1.96V131.4ZM328.14 131.4V27.18h1.96V131.4ZM330.1 131.4V26.9h1.96V131.4ZM332.06 131.4V27.18h1.96V131.4ZM334.02 131.4V27.9h1.96V131.4ZM335.98 131.4V28.61h1.96V131.4ZM337.94 131.4V29.61h1.96V131.4ZM339.9 131.4V30.47h1.96V131.4ZM341.86 131.4V31.47h1.96V131.4ZM343.82 131.4V32.19h1.96V131.4ZM345.78 131.4V32.91h1.96V131.4ZM347.74 131.4V33.62h1.96V131.4ZM349.7 131.4V34.62h1.96V131.4ZM351.66 131.4V35.77h1.96V131.4ZM353.62 131.4V37.48h1.96V131.4ZM355.58 131.4V39.34h1.96V131.4ZM357.54 131.4V40.49h1.96V131.4ZM359.5 131.4V41.49h1.96V131.4ZM361.46 131.4V42.49h1.96V131.4ZM363.42 131.4V43.64h1.96V131.4ZM365.38 131.4V45.07h1.96V131.4ZM367.34 131.4V46.07h1.96V131.4ZM369.3 131.4V47.21h1.96V131.4ZM371.26 131.4V47.5h1.96V131.4ZM373.22 131.4V51.5h1.96V131.4ZM375.18 131.4V52.65h1.96V131.4ZM377.14 131.4V54.08h1.96V131.4ZM379.1 131.4V56.51h1.96V131.4ZM381.06 131.4V57.94h1.96V131.4ZM383.02 131.4V61.23h1.96V131.4ZM384.98 131.4V61.52h1.96V131.4ZM386.94 131.4V61.8h1.96V131.4ZM388.9 131.4V65.15h1.96V131.4ZM390.86 131.4V65.58h1.96V131.4ZM392.82 131.4V68.01h1.96V131.4ZM394.78 131.4V69.15h1.96V131.4ZM396.74 131.4V70.58h1.96V131.4ZM398.7 131.4V72.01h1.96V131.4ZM400.66 131.4V72.73h1.96V131.4ZM402.62 131.4V83.17h1.96V131.4ZM404.58 131.4V78.88h1.96V131.4ZM406.54 131.4V79.88h1.96V131.4ZM408.5 131.4V88.9h1.96V131.4ZM410.46 131.4V83.75h1.96V131.4ZM412.42 131.4V85.18h1.96V131.4ZM414.38 131.4V92.33h1.96V131.4ZM416.34 131.4V95.19h1.96V131.4ZM418.3 131.4V88.9h1.96V131.4ZM420.26 131.4V93.76h1.96V131.4ZM422.22 131.4V104.2h1.96V131.4ZM424.18 131.4V94.62h1.96V131.4ZM428.1 131.4V99.48h1.96V131.4ZM432.02 131.4V103.78h1.96V131.4ZM433.98 131.4V101.34h1.96V131.4ZM437.9 131.4V104.63h1.96V131.4ZM439.86 131.4V107.07h1.96V131.4Z" fill="#444" stroke="#444" stroke-width="0.4"/></mask>
<path d="M286.98 131.4V107.07h1.96V131.4ZM288.94 131.4V104.2h1.96V131.4ZM290.9 131.4V100.91h1.96V131.4ZM292.86 131.4V86.32h1.96V131.4ZM294.82 131.4V82.03h1.96V131.4ZM296.78 131.4V78.88h1.96V131.4ZM298.74 131.4V75.59h1.96V131.4ZM300.7 131.4V73.16h1.96V131.4ZM302.66 131.4V71.73h1.96V131.4ZM304.62 131.4V72.73h1.96V131.4ZM306.58 131.4V72.3h1.96V131.4ZM308.54 131.4V72.3h1.96V131.4ZM310.5 131.4V74.59h1.96V131.4ZM312.46 131.4V78.88h1.96V131.4ZM314.42 131.4V79.88h1.96V131.4ZM316.38 131.4V84.18h1.96V131.4ZM318.34 131.4V85.18h1.96V131.4ZM320.3 131.4V83.75h1.96V131.4ZM322.26 131.4V89.18h1.96V131.4ZM324.22 131.4V98.05h1.96V131.4ZM326.18 131.4V101.77h1.96V131.4ZM328.14 131.4V103.06h1.96V131.4ZM330.1 131.4V102.77h1.96V131.4ZM332.06 131.4V124.95h1.96V131.4ZM334.02 131.4V129.24h1.96V131.4ZM335.98 131.4V104.92h1.96V131.4ZM337.94 131.4V107.07h1.96V131.4Z" fill="#0000ff" fill-opacity="0.6"/>
<path d="M286.98 131.4V107.07h1.96V131.4ZM288.94 131.4V104.2h1.96V131.4ZM290.9 131.4V100.91h1.96V131.4ZM292.86 131.4V86.32h1.96V131.4ZM294.82 131.4V82.03h1.96V131.4ZM296.78 131.4V78.88h1.96V131.4ZM298.74 131.4V75.59h1.96V131.4ZM300.7 131.4V73.16h1.96V131.4ZM302.66 131.4V71.73h1.96V131.4ZM304.62 131.4V72.73h1.96V131.4ZM306.58 131.4V72.3h1.96V131.4ZM308.54 131.4V72.3h1.96V131.4ZM310.5 131.4V74.59h1.96V131.4ZM312.46 131.4V78.88h1.96V131.4ZM314.42 131.4V79.88h1.96V131.4ZM316.38 131.4V84.18h1.96V131.4ZM318.34 131.4V85.18h1.96V131.4ZM320.3 131.4V83.75h1.96V131.4ZM322.26 131.4V89.18h1.96V131.4ZM324.22 131.4V98.05h1.96V131.4ZM326.18 131.4V101.77h1.96V131.4ZM328.14 131.4V103.06h1.96V131.4ZM330.1 131.4V102.77h1.96V131.4ZM332.06 131.4V124.95h1.96V131.4ZM334.02 131.4V129.24h1.96V131.4ZM335.98 131.4V104.92h1.96V131.4ZM337.94 131.4V107.07h1.96V131.4Z" fill="none" stroke="#000" stroke-width="0.35" stroke-opacity="0.55" mask="url(#mb)"/>
<path d="M286.98 107.07h1.96M288.94 104.2h1.96M290.9 100.91h1.96M292.86 86.32h1.96M294.82 82.03h1.96M296.78 78.88h1.96M298.74 75.59h1.96M300.7 73.16h1.96M302.66 71.73h1.96M304.62 72.73h1.96M306.58 72.3h1.96M308.54 72.3h1.96M310.5 74.59h1.96M312.46 78.88h1.96M314.42 79.88h1.96M316.38 84.18h1.96M318.34 85.18h1.96M320.3 83.75h1.96M322.26 89.18h1.96M324.22 98.05h1.96M326.18 101.77h1.96M328.14 103.06h1.96M330.1 102.77h1.96M332.06 124.95h1.96M334.02 129.24h1.96M335.98 104.92h1.96M337.94 107.07h1.96" fill="none" stroke="#000" stroke-width="0.45" stroke-opacity="0.4"/>
<rect x="256.6" y="0.3" width="196" height="131.1" fill="none" stroke="#222" stroke-width="1"/>
<path d="M256.6 131.4v-2.2M256.6 0.3v2.2M295.8 131.4v-2.2M295.8 0.3v2.2M335 131.4v-2.2M335 0.3v2.2M374.2 131.4v-2.2M374.2 0.3v2.2M413.4 131.4v-2.2M413.4 0.3v2.2M452.6 131.4v-2.2M452.6 0.3v2.2M256.6 131.4h3.0M452.6 131.4h-3.0M256.6 125.15h1.4M452.6 125.15h-1.4M256.6 121.5h1.4M452.6 121.5h-1.4M256.6 118.91h1.4M452.6 118.91h-1.4M256.6 116.9h1.4M452.6 116.9h-1.4M256.6 115.25h1.4M452.6 115.25h-1.4M256.6 113.86h1.4M452.6 113.86h-1.4M256.6 112.66h1.4M452.6 112.66h-1.4M256.6 111.6h1.4M452.6 111.6h-1.4M256.6 110.65h2.2M452.6 110.65h-2.2M256.6 104.4h1.4M452.6 104.4h-1.4M256.6 100.75h1.4M452.6 100.75h-1.4M256.6 98.16h1.4M452.6 98.16h-1.4M256.6 96.15h1.4M452.6 96.15h-1.4M256.6 94.5h1.4M452.6 94.5h-1.4M256.6 93.11h1.4M452.6 93.11h-1.4M256.6 91.91h1.4M452.6 91.91h-1.4M256.6 90.85h1.4M452.6 90.85h-1.4M256.6 89.9h3.0M452.6 89.9h-3.0M256.6 83.65h1.4M452.6 83.65h-1.4M256.6 80h1.4M452.6 80h-1.4M256.6 77.41h1.4M452.6 77.41h-1.4M256.6 75.4h1.4M452.6 75.4h-1.4M256.6 73.75h1.4M452.6 73.75h-1.4M256.6 72.36h1.4M452.6 72.36h-1.4M256.6 71.16h1.4M452.6 71.16h-1.4M256.6 70.1h1.4M452.6 70.1h-1.4M256.6 69.15h2.2M452.6 69.15h-2.2M256.6 62.9h1.4M452.6 62.9h-1.4M256.6 59.25h1.4M452.6 59.25h-1.4M256.6 56.66h1.4M452.6 56.66h-1.4M256.6 54.65h1.4M452.6 54.65h-1.4M256.6 53h1.4M452.6 53h-1.4M256.6 51.61h1.4M452.6 51.61h-1.4M256.6 50.41h1.4M452.6 50.41h-1.4M256.6 49.35h1.4M452.6 49.35h-1.4M256.6 48.4h3.0M452.6 48.4h-3.0M256.6 42.15h1.4M452.6 42.15h-1.4M256.6 38.5h1.4M452.6 38.5h-1.4M256.6 35.91h1.4M452.6 35.91h-1.4M256.6 33.9h1.4M452.6 33.9h-1.4M256.6 32.25h1.4M452.6 32.25h-1.4M256.6 30.86h1.4M452.6 30.86h-1.4M256.6 29.66h1.4M452.6 29.66h-1.4M256.6 28.6h1.4M452.6 28.6h-1.4M256.6 27.65h2.2M452.6 27.65h-2.2M256.6 21.4h1.4M452.6 21.4h-1.4M256.6 17.75h1.4M452.6 17.75h-1.4M256.6 15.16h1.4M452.6 15.16h-1.4M256.6 13.15h1.4M452.6 13.15h-1.4M256.6 11.5h1.4M452.6 11.5h-1.4M256.6 10.11h1.4M452.6 10.11h-1.4M256.6 8.91h1.4M452.6 8.91h-1.4M256.6 7.85h1.4M452.6 7.85h-1.4M256.6 6.9h3.0M452.6 6.9h-3.0" stroke="#222" stroke-width="0.8" fill="none"/>
<g class="tb" font-size="9.6"><text x="256.6" y="142.7" text-anchor="middle">-2</text><text x="295.8" y="142.7" text-anchor="middle">0</text><text x="335" y="142.7" text-anchor="middle">2</text><text x="374.2" y="142.7" text-anchor="middle">4</text><text x="413.4" y="142.7" text-anchor="middle">6</text><text x="452.6" y="142.7" text-anchor="middle">8</text><text x="250.7" y="135.7" text-anchor="end">10</text><text x="250.3" y="131.1" font-size="7">0</text><text x="250.7" y="94.2" text-anchor="end">10</text><text x="250.3" y="89.6" font-size="7">2</text><text x="250.7" y="52.7" text-anchor="end">10</text><text x="250.3" y="48.1" font-size="7">4</text><text x="250.7" y="11.2" text-anchor="end">10</text><text x="250.3" y="6.6" font-size="7">6</text></g>
<text x="354.6" y="153.5" text-anchor="middle" class="tb" font-size="9.7">Magnitude</text>
<text transform="translate(237.5,65.85) rotate(-90)" text-anchor="middle" class="tb" font-size="9.7">No. of events</text>
<text transform="translate(264.75,18) scale(1.05,1)" font-family="Liberation Serif" font-size="18.2">b)</text>
<text transform="translate(330.6,12.45) scale(0.957,1)" text-anchor="start" class="ds" font-size="9.9">Jan 01, 2013–Dec 31, 2013</text>
<text transform="translate(330.6,21.85) scale(0.957,1)" text-anchor="start" class="ds" font-size="9.9">Jan 01, 2022–Sep 31, 2022</text>
<path d="M38.64 299.5V279.36h1.96V299.5ZM40.6 299.5V277.21h1.96V299.5ZM42.56 299.5V262.19h1.96V299.5ZM44.52 299.5V253.61h1.96V299.5ZM46.48 299.5V246.45h1.96V299.5ZM48.44 299.5V239.3h1.96V299.5ZM50.4 299.5V233.09h1.96V299.5ZM52.36 299.5V228.09h1.96V299.5ZM54.32 299.5V222.36h1.96V299.5ZM56.28 299.5V217.36h1.96V299.5ZM58.24 299.5V213.07h1.96V299.5ZM60.2 299.5V208.77h1.96V299.5ZM62.16 299.5V204.48h1.96V299.5ZM64.12 299.5V200.19h1.96V299.5ZM66.08 299.5V196.61h1.96V299.5ZM68.04 299.5V193.75h1.96V299.5ZM70 299.5V191.61h1.96V299.5ZM71.96 299.5V190.18h1.96V299.5ZM73.92 299.5V189.46h1.96V299.5ZM75.88 299.5V189.17h1.96V299.5ZM77.84 299.5V189.03h1.96V299.5ZM79.8 299.5V189.03h1.96V299.5ZM81.76 299.5V189.17h1.96V299.5ZM83.72 299.5V189.46h1.96V299.5ZM85.68 299.5V189.75h1.96V299.5ZM87.64 299.5V190.18h1.96V299.5ZM89.6 299.5V190.18h1.96V299.5ZM91.56 299.5V189.89h1.96V299.5ZM93.52 299.5V189.46h1.96V299.5ZM95.48 299.5V189.46h1.96V299.5ZM97.44 299.5V189.75h1.96V299.5ZM99.4 299.5V190.18h1.96V299.5ZM101.36 299.5V190.6h1.96V299.5ZM103.32 299.5V191.18h1.96V299.5ZM105.28 299.5V191.61h1.96V299.5ZM107.24 299.5V192.32h1.96V299.5ZM109.2 299.5V193.04h1.96V299.5ZM111.16 299.5V193.75h1.96V299.5ZM113.12 299.5V194.47h1.96V299.5ZM115.08 299.5V195.47h1.96V299.5ZM117.04 299.5V196.61h1.96V299.5ZM119 299.5V197.76h1.96V299.5ZM120.96 299.5V198.76h1.96V299.5ZM122.92 299.5V200.91h1.96V299.5ZM124.88 299.5V202.05h1.96V299.5ZM126.84 299.5V203.05h1.96V299.5ZM128.8 299.5V204.48h1.96V299.5ZM130.76 299.5V205.91h1.96V299.5ZM132.72 299.5V207.34h1.96V299.5ZM134.68 299.5V208.77h1.96V299.5ZM136.64 299.5V209.78h1.96V299.5ZM138.6 299.5V210.2h1.96V299.5ZM140.56 299.5V210.2h1.96V299.5ZM142.52 299.5V215.21h1.96V299.5ZM144.48 299.5V216.64h1.96V299.5ZM146.44 299.5V217.36h1.96V299.5ZM148.4 299.5V220.22h1.96V299.5ZM150.36 299.5V222.36h1.96V299.5ZM152.32 299.5V224.08h1.96V299.5ZM154.28 299.5V225.23h1.96V299.5ZM156.24 299.5V225.94h1.96V299.5ZM158.2 299.5V228.8h1.96V299.5ZM160.16 299.5V230.72h1.96V299.5ZM162.12 299.5V231.43h1.96V299.5ZM164.08 299.5V232.58h1.96V299.5ZM166.04 299.5V236.44h1.96V299.5ZM168 299.5V237.15h1.96V299.5ZM169.96 299.5V242.16h1.96V299.5ZM171.92 299.5V244.31h1.96V299.5ZM173.88 299.5V241.45h1.96V299.5ZM175.84 299.5V242.59h1.96V299.5ZM177.8 299.5V252.18h1.96V299.5ZM179.76 299.5V251.46h1.96V299.5ZM181.72 299.5V249.31h1.96V299.5ZM183.68 299.5V257.9h1.96V299.5ZM185.64 299.5V250.32h1.96V299.5ZM187.6 299.5V254.61h1.96V299.5ZM189.56 299.5V252.6h1.96V299.5ZM191.52 299.5V261.19h1.96V299.5ZM193.48 299.5V276.07h1.96V299.5ZM195.44 299.5V267.48h1.96V299.5ZM197.4 299.5V261.19h1.96V299.5ZM199.36 299.5V274.06h1.96V299.5ZM201.32 299.5V266.48h1.96V299.5ZM203.28 299.5V268.91h1.96V299.5ZM207.2 299.5V275.07h1.96V299.5Z" fill="#ff0000" fill-opacity="0.6"/>
<mask id="mbc" maskUnits="userSpaceOnUse" x="0" y="0" width="685" height="492"><rect width="685" height="492" fill="#fff"/><path d="M46.48 299.5V286.51h1.96V299.5ZM54.32 299.5V270.06h1.96V299.5ZM56.28 299.5V270.06h1.96V299.5ZM58.24 299.5V260.04h1.96V299.5ZM60.2 299.5V251.17h1.96V299.5ZM62.16 299.5V244.31h1.96V299.5ZM64.12 299.5V240.3h1.96V299.5ZM66.08 299.5V237.87h1.96V299.5ZM68.04 299.5V235.44h1.96V299.5ZM70 299.5V233.58h1.96V299.5ZM71.96 299.5V232.15h1.96V299.5ZM73.92 299.5V231.43h1.96V299.5ZM75.88 299.5V232.86h1.96V299.5ZM77.84 299.5V235.72h1.96V299.5ZM79.8 299.5V237.87h1.96V299.5ZM81.76 299.5V239.3h1.96V299.5ZM83.72 299.5V241.16h1.96V299.5ZM85.68 299.5V243.59h1.96V299.5ZM87.64 299.5V251.75h1.96V299.5ZM89.6 299.5V245.02h1.96V299.5ZM91.56 299.5V252.89h1.96V299.5ZM93.52 299.5V255.04h1.96V299.5ZM95.48 299.5V257.18h1.96V299.5ZM97.44 299.5V262.91h1.96V299.5ZM99.4 299.5V257.18h1.96V299.5ZM101.36 299.5V292.95h1.96V299.5ZM103.32 299.5V280.07h1.96V299.5ZM105.28 299.5V275.07h1.96V299.5ZM107.24 299.5V267.48h1.96V299.5ZM109.2 299.5V275.49h1.96V299.5Z" fill="#666"/></mask>
<path d="M38.64 299.5V279.36h1.96V299.5ZM40.6 299.5V277.21h1.96V299.5ZM42.56 299.5V262.19h1.96V299.5ZM44.52 299.5V253.61h1.96V299.5ZM46.48 299.5V246.45h1.96V299.5ZM48.44 299.5V239.3h1.96V299.5ZM50.4 299.5V233.09h1.96V299.5ZM52.36 299.5V228.09h1.96V299.5ZM54.32 299.5V222.36h1.96V299.5ZM56.28 299.5V217.36h1.96V299.5ZM58.24 299.5V213.07h1.96V299.5ZM60.2 299.5V208.77h1.96V299.5ZM62.16 299.5V204.48h1.96V299.5ZM64.12 299.5V200.19h1.96V299.5ZM66.08 299.5V196.61h1.96V299.5ZM68.04 299.5V193.75h1.96V299.5ZM70 299.5V191.61h1.96V299.5ZM71.96 299.5V190.18h1.96V299.5ZM73.92 299.5V189.46h1.96V299.5ZM75.88 299.5V189.17h1.96V299.5ZM77.84 299.5V189.03h1.96V299.5ZM79.8 299.5V189.03h1.96V299.5ZM81.76 299.5V189.17h1.96V299.5ZM83.72 299.5V189.46h1.96V299.5ZM85.68 299.5V189.75h1.96V299.5ZM87.64 299.5V190.18h1.96V299.5ZM89.6 299.5V190.18h1.96V299.5ZM91.56 299.5V189.89h1.96V299.5ZM93.52 299.5V189.46h1.96V299.5ZM95.48 299.5V189.46h1.96V299.5ZM97.44 299.5V189.75h1.96V299.5ZM99.4 299.5V190.18h1.96V299.5ZM101.36 299.5V190.6h1.96V299.5ZM103.32 299.5V191.18h1.96V299.5ZM105.28 299.5V191.61h1.96V299.5ZM107.24 299.5V192.32h1.96V299.5ZM109.2 299.5V193.04h1.96V299.5ZM111.16 299.5V193.75h1.96V299.5ZM113.12 299.5V194.47h1.96V299.5ZM115.08 299.5V195.47h1.96V299.5ZM117.04 299.5V196.61h1.96V299.5ZM119 299.5V197.76h1.96V299.5ZM120.96 299.5V198.76h1.96V299.5ZM122.92 299.5V200.91h1.96V299.5ZM124.88 299.5V202.05h1.96V299.5ZM126.84 299.5V203.05h1.96V299.5ZM128.8 299.5V204.48h1.96V299.5ZM130.76 299.5V205.91h1.96V299.5ZM132.72 299.5V207.34h1.96V299.5ZM134.68 299.5V208.77h1.96V299.5ZM136.64 299.5V209.78h1.96V299.5ZM138.6 299.5V210.2h1.96V299.5ZM140.56 299.5V210.2h1.96V299.5ZM142.52 299.5V215.21h1.96V299.5ZM144.48 299.5V216.64h1.96V299.5ZM146.44 299.5V217.36h1.96V299.5ZM148.4 299.5V220.22h1.96V299.5ZM150.36 299.5V222.36h1.96V299.5ZM152.32 299.5V224.08h1.96V299.5ZM154.28 299.5V225.23h1.96V299.5ZM156.24 299.5V225.94h1.96V299.5ZM158.2 299.5V228.8h1.96V299.5ZM160.16 299.5V230.72h1.96V299.5ZM162.12 299.5V231.43h1.96V299.5ZM164.08 299.5V232.58h1.96V299.5ZM166.04 299.5V236.44h1.96V299.5ZM168 299.5V237.15h1.96V299.5ZM169.96 299.5V242.16h1.96V299.5ZM171.92 299.5V244.31h1.96V299.5ZM173.88 299.5V241.45h1.96V299.5ZM175.84 299.5V242.59h1.96V299.5ZM177.8 299.5V252.18h1.96V299.5ZM179.76 299.5V251.46h1.96V299.5ZM181.72 299.5V249.31h1.96V299.5ZM183.68 299.5V257.9h1.96V299.5ZM185.64 299.5V250.32h1.96V299.5ZM187.6 299.5V254.61h1.96V299.5ZM189.56 299.5V252.6h1.96V299.5ZM191.52 299.5V261.19h1.96V299.5ZM193.48 299.5V276.07h1.96V299.5ZM195.44 299.5V267.48h1.96V299.5ZM197.4 299.5V261.19h1.96V299.5ZM199.36 299.5V274.06h1.96V299.5ZM201.32 299.5V266.48h1.96V299.5ZM203.28 299.5V268.91h1.96V299.5ZM207.2 299.5V275.07h1.96V299.5Z" fill="none" stroke="#000" stroke-width="0.35" stroke-opacity="0.55" mask="url(#mbc)"/>
<path d="M38.64 279.36h1.96M40.6 277.21h1.96M42.56 262.19h1.96M44.52 253.61h1.96M46.48 246.45h1.96M48.44 239.3h1.96M50.4 233.09h1.96M52.36 228.09h1.96M54.32 222.36h1.96M56.28 217.36h1.96M58.24 213.07h1.96M60.2 208.77h1.96M62.16 204.48h1.96M64.12 200.19h1.96M66.08 196.61h1.96M68.04 193.75h1.96M70 191.61h1.96M71.96 190.18h1.96M73.92 189.46h1.96M75.88 189.17h1.96M77.84 189.03h1.96M79.8 189.03h1.96M81.76 189.17h1.96M83.72 189.46h1.96M85.68 189.75h1.96M87.64 190.18h1.96M89.6 190.18h1.96M91.56 189.89h1.96M93.52 189.46h1.96M95.48 189.46h1.96M97.44 189.75h1.96M99.4 190.18h1.96M101.36 190.6h1.96M103.32 191.18h1.96M105.28 191.61h1.96M107.24 192.32h1.96M109.2 193.04h1.96M111.16 193.75h1.96M113.12 194.47h1.96M115.08 195.47h1.96M117.04 196.61h1.96M119 197.76h1.96M120.96 198.76h1.96M122.92 200.91h1.96M124.88 202.05h1.96M126.84 203.05h1.96M128.8 204.48h1.96M130.76 205.91h1.96M132.72 207.34h1.96M134.68 208.77h1.96M136.64 209.78h1.96M138.6 210.2h1.96M140.56 210.2h1.96M142.52 215.21h1.96M144.48 216.64h1.96M146.44 217.36h1.96M148.4 220.22h1.96M150.36 222.36h1.96M152.32 224.08h1.96M154.28 225.23h1.96M156.24 225.94h1.96M158.2 228.8h1.96M160.16 230.72h1.96M162.12 231.43h1.96M164.08 232.58h1.96M166.04 236.44h1.96M168 237.15h1.96M169.96 242.16h1.96M171.92 244.31h1.96M173.88 241.45h1.96M175.84 242.59h1.96M177.8 252.18h1.96M179.76 251.46h1.96M181.72 249.31h1.96M183.68 257.9h1.96M185.64 250.32h1.96M187.6 254.61h1.96M189.56 252.6h1.96M191.52 261.19h1.96M193.48 276.07h1.96M195.44 267.48h1.96M197.4 261.19h1.96M199.36 274.06h1.96M201.32 266.48h1.96M203.28 268.91h1.96M207.2 275.07h1.96" fill="none" stroke="#000" stroke-width="0.45" stroke-opacity="0.4"/>
<mask id="mc" maskUnits="userSpaceOnUse" x="0" y="0" width="685" height="492"><rect width="685" height="492" fill="#fff"/><path d="M38.64 299.5V279.36h1.96V299.5ZM40.6 299.5V277.21h1.96V299.5ZM42.56 299.5V262.19h1.96V299.5ZM44.52 299.5V253.61h1.96V299.5ZM46.48 299.5V246.45h1.96V299.5ZM48.44 299.5V239.3h1.96V299.5ZM50.4 299.5V233.09h1.96V299.5ZM52.36 299.5V228.09h1.96V299.5ZM54.32 299.5V222.36h1.96V299.5ZM56.28 299.5V217.36h1.96V299.5ZM58.24 299.5V213.07h1.96V299.5ZM60.2 299.5V208.77h1.96V299.5ZM62.16 299.5V204.48h1.96V299.5ZM64.12 299.5V200.19h1.96V299.5ZM66.08 299.5V196.61h1.96V299.5ZM68.04 299.5V193.75h1.96V299.5ZM70 299.5V191.61h1.96V299.5ZM71.96 299.5V190.18h1.96V299.5ZM73.92 299.5V189.46h1.96V299.5ZM75.88 299.5V189.17h1.96V299.5ZM77.84 299.5V189.03h1.96V299.5ZM79.8 299.5V189.03h1.96V299.5ZM81.76 299.5V189.17h1.96V299.5ZM83.72 299.5V189.46h1.96V299.5ZM85.68 299.5V189.75h1.96V299.5ZM87.64 299.5V190.18h1.96V299.5ZM89.6 299.5V190.18h1.96V299.5ZM91.56 299.5V189.89h1.96V299.5ZM93.52 299.5V189.46h1.96V299.5ZM95.48 299.5V189.46h1.96V299.5ZM97.44 299.5V189.75h1.96V299.5ZM99.4 299.5V190.18h1.96V299.5ZM101.36 299.5V190.6h1.96V299.5ZM103.32 299.5V191.18h1.96V299.5ZM105.28 299.5V191.61h1.96V299.5ZM107.24 299.5V192.32h1.96V299.5ZM109.2 299.5V193.04h1.96V299.5ZM111.16 299.5V193.75h1.96V299.5ZM113.12 299.5V194.47h1.96V299.5ZM115.08 299.5V195.47h1.96V299.5ZM117.04 299.5V196.61h1.96V299.5ZM119 299.5V197.76h1.96V299.5ZM120.96 299.5V198.76h1.96V299.5ZM122.92 299.5V200.91h1.96V299.5ZM124.88 299.5V202.05h1.96V299.5ZM126.84 299.5V203.05h1.96V299.5ZM128.8 299.5V204.48h1.96V299.5ZM130.76 299.5V205.91h1.96V299.5ZM132.72 299.5V207.34h1.96V299.5ZM134.68 299.5V208.77h1.96V299.5ZM136.64 299.5V209.78h1.96V299.5ZM138.6 299.5V210.2h1.96V299.5ZM140.56 299.5V210.2h1.96V299.5ZM142.52 299.5V215.21h1.96V299.5ZM144.48 299.5V216.64h1.96V299.5ZM146.44 299.5V217.36h1.96V299.5ZM148.4 299.5V220.22h1.96V299.5ZM150.36 299.5V222.36h1.96V299.5ZM152.32 299.5V224.08h1.96V299.5ZM154.28 299.5V225.23h1.96V299.5ZM156.24 299.5V225.94h1.96V299.5ZM158.2 299.5V228.8h1.96V299.5ZM160.16 299.5V230.72h1.96V299.5ZM162.12 299.5V231.43h1.96V299.5ZM164.08 299.5V232.58h1.96V299.5ZM166.04 299.5V236.44h1.96V299.5ZM168 299.5V237.15h1.96V299.5ZM169.96 299.5V242.16h1.96V299.5ZM171.92 299.5V244.31h1.96V299.5ZM173.88 299.5V241.45h1.96V299.5ZM175.84 299.5V242.59h1.96V299.5ZM177.8 299.5V252.18h1.96V299.5ZM179.76 299.5V251.46h1.96V299.5ZM181.72 299.5V249.31h1.96V299.5ZM183.68 299.5V257.9h1.96V299.5ZM185.64 299.5V250.32h1.96V299.5ZM187.6 299.5V254.61h1.96V299.5ZM189.56 299.5V252.6h1.96V299.5ZM191.52 299.5V261.19h1.96V299.5ZM193.48 299.5V276.07h1.96V299.5ZM195.44 299.5V267.48h1.96V299.5ZM197.4 299.5V261.19h1.96V299.5ZM199.36 299.5V274.06h1.96V299.5ZM201.32 299.5V266.48h1.96V299.5ZM203.28 299.5V268.91h1.96V299.5ZM207.2 299.5V275.07h1.96V299.5Z" fill="#444" stroke="#444" stroke-width="0.4"/></mask>
<path d="M46.48 299.5V286.51h1.96V299.5ZM54.32 299.5V270.06h1.96V299.5ZM56.28 299.5V270.06h1.96V299.5ZM58.24 299.5V260.04h1.96V299.5ZM60.2 299.5V251.17h1.96V299.5ZM62.16 299.5V244.31h1.96V299.5ZM64.12 299.5V240.3h1.96V299.5ZM66.08 299.5V237.87h1.96V299.5ZM68.04 299.5V235.44h1.96V299.5ZM70 299.5V233.58h1.96V299.5ZM71.96 299.5V232.15h1.96V299.5ZM73.92 299.5V231.43h1.96V299.5ZM75.88 299.5V232.86h1.96V299.5ZM77.84 299.5V235.72h1.96V299.5ZM79.8 299.5V237.87h1.96V299.5ZM81.76 299.5V239.3h1.96V299.5ZM83.72 299.5V241.16h1.96V299.5ZM85.68 299.5V243.59h1.96V299.5ZM87.64 299.5V251.75h1.96V299.5ZM89.6 299.5V245.02h1.96V299.5ZM91.56 299.5V252.89h1.96V299.5ZM93.52 299.5V255.04h1.96V299.5ZM95.48 299.5V257.18h1.96V299.5ZM97.44 299.5V262.91h1.96V299.5ZM99.4 299.5V257.18h1.96V299.5ZM101.36 299.5V292.95h1.96V299.5ZM103.32 299.5V280.07h1.96V299.5ZM105.28 299.5V275.07h1.96V299.5ZM107.24 299.5V267.48h1.96V299.5ZM109.2 299.5V275.49h1.96V299.5Z" fill="#0000ff" fill-opacity="0.6"/>
<path d="M46.48 299.5V286.51h1.96V299.5ZM54.32 299.5V270.06h1.96V299.5ZM56.28 299.5V270.06h1.96V299.5ZM58.24 299.5V260.04h1.96V299.5ZM60.2 299.5V251.17h1.96V299.5ZM62.16 299.5V244.31h1.96V299.5ZM64.12 299.5V240.3h1.96V299.5ZM66.08 299.5V237.87h1.96V299.5ZM68.04 299.5V235.44h1.96V299.5ZM70 299.5V233.58h1.96V299.5ZM71.96 299.5V232.15h1.96V299.5ZM73.92 299.5V231.43h1.96V299.5ZM75.88 299.5V232.86h1.96V299.5ZM77.84 299.5V235.72h1.96V299.5ZM79.8 299.5V237.87h1.96V299.5ZM81.76 299.5V239.3h1.96V299.5ZM83.72 299.5V241.16h1.96V299.5ZM85.68 299.5V243.59h1.96V299.5ZM87.64 299.5V251.75h1.96V299.5ZM89.6 299.5V245.02h1.96V299.5ZM91.56 299.5V252.89h1.96V299.5ZM93.52 299.5V255.04h1.96V299.5ZM95.48 299.5V257.18h1.96V299.5ZM97.44 299.5V262.91h1.96V299.5ZM99.4 299.5V257.18h1.96V299.5ZM101.36 299.5V292.95h1.96V299.5ZM103.32 299.5V280.07h1.96V299.5ZM105.28 299.5V275.07h1.96V299.5ZM107.24 299.5V267.48h1.96V299.5ZM109.2 299.5V275.49h1.96V299.5Z" fill="none" stroke="#000" stroke-width="0.35" stroke-opacity="0.55" mask="url(#mc)"/>
<path d="M46.48 286.51h1.96M54.32 270.06h1.96M56.28 270.06h1.96M58.24 260.04h1.96M60.2 251.17h1.96M62.16 244.31h1.96M64.12 240.3h1.96M66.08 237.87h1.96M68.04 235.44h1.96M70 233.58h1.96M71.96 232.15h1.96M73.92 231.43h1.96M75.88 232.86h1.96M77.84 235.72h1.96M79.8 237.87h1.96M81.76 239.3h1.96M83.72 241.16h1.96M85.68 243.59h1.96M87.64 251.75h1.96M89.6 245.02h1.96M91.56 252.89h1.96M93.52 255.04h1.96M95.48 257.18h1.96M97.44 262.91h1.96M99.4 257.18h1.96M101.36 292.95h1.96M103.32 280.07h1.96M105.28 275.07h1.96M107.24 267.48h1.96M109.2 275.49h1.96" fill="none" stroke="#000" stroke-width="0.45" stroke-opacity="0.4"/>
<rect x="25.9" y="168.4" width="196" height="131.1" fill="none" stroke="#222" stroke-width="1"/>
<path d="M25.9 299.5v-2.2M25.9 168.4v2.2M65.1 299.5v-2.2M65.1 168.4v2.2M104.3 299.5v-2.2M104.3 168.4v2.2M143.5 299.5v-2.2M143.5 168.4v2.2M182.7 299.5v-2.2M182.7 168.4v2.2M221.9 299.5v-2.2M221.9 168.4v2.2M25.9 299.5h3.0M221.9 299.5h-3.0M25.9 293.25h1.4M221.9 293.25h-1.4M25.9 289.6h1.4M221.9 289.6h-1.4M25.9 287.01h1.4M221.9 287.01h-1.4M25.9 285h1.4M221.9 285h-1.4M25.9 283.35h1.4M221.9 283.35h-1.4M25.9 281.96h1.4M221.9 281.96h-1.4M25.9 280.76h1.4M221.9 280.76h-1.4M25.9 279.7h1.4M221.9 279.7h-1.4M25.9 278.75h2.2M221.9 278.75h-2.2M25.9 272.5h1.4M221.9 272.5h-1.4M25.9 268.85h1.4M221.9 268.85h-1.4M25.9 266.26h1.4M221.9 266.26h-1.4M25.9 264.25h1.4M221.9 264.25h-1.4M25.9 262.6h1.4M221.9 262.6h-1.4M25.9 261.21h1.4M221.9 261.21h-1.4M25.9 260.01h1.4M221.9 260.01h-1.4M25.9 258.95h1.4M221.9 258.95h-1.4M25.9 258h3.0M221.9 258h-3.0M25.9 251.75h1.4M221.9 251.75h-1.4M25.9 248.1h1.4M221.9 248.1h-1.4M25.9 245.51h1.4M221.9 245.51h-1.4M25.9 243.5h1.4M221.9 243.5h-1.4M25.9 241.85h1.4M221.9 241.85h-1.4M25.9 240.46h1.4M221.9 240.46h-1.4M25.9 239.26h1.4M221.9 239.26h-1.4M25.9 238.2h1.4M221.9 238.2h-1.4M25.9 237.25h2.2M221.9 237.25h-2.2M25.9 231h1.4M221.9 231h-1.4M25.9 227.35h1.4M221.9 227.35h-1.4M25.9 224.76h1.4M221.9 224.76h-1.4M25.9 222.75h1.4M221.9 222.75h-1.4M25.9 221.1h1.4M221.9 221.1h-1.4M25.9 219.71h1.4M221.9 219.71h-1.4M25.9 218.51h1.4M221.9 218.51h-1.4M25.9 217.45h1.4M221.9 217.45h-1.4M25.9 216.5h3.0M221.9 216.5h-3.0M25.9 210.25h1.4M221.9 210.25h-1.4M25.9 206.6h1.4M221.9 206.6h-1.4M25.9 204.01h1.4M221.9 204.01h-1.4M25.9 202h1.4M221.9 202h-1.4M25.9 200.35h1.4M221.9 200.35h-1.4M25.9 198.96h1.4M221.9 198.96h-1.4M25.9 197.76h1.4M221.9 197.76h-1.4M25.9 196.7h1.4M221.9 196.7h-1.4M25.9 195.75h2.2M221.9 195.75h-2.2M25.9 189.5h1.4M221.9 189.5h-1.4M25.9 185.85h1.4M221.9 185.85h-1.4M25.9 183.26h1.4M221.9 183.26h-1.4M25.9 181.25h1.4M221.9 181.25h-1.4M25.9 179.6h1.4M221.9 179.6h-1.4M25.9 178.21h1.4M221.9 178.21h-1.4M25.9 177.01h1.4M221.9 177.01h-1.4M25.9 175.95h1.4M221.9 175.95h-1.4M25.9 175h3.0M221.9 175h-3.0" stroke="#222" stroke-width="0.8" fill="none"/>
<g class="tb" font-size="9.6"><text x="25.9" y="310.8" text-anchor="middle">-2</text><text x="65.1" y="310.8" text-anchor="middle">0</text><text x="104.3" y="310.8" text-anchor="middle">2</text><text x="143.5" y="310.8" text-anchor="middle">4</text><text x="182.7" y="310.8" text-anchor="middle">6</text><text x="221.9" y="310.8" text-anchor="middle">8</text><text x="20" y="303.8" text-anchor="end">10</text><text x="19.6" y="299.2" font-size="7">0</text><text x="20" y="262.3" text-anchor="end">10</text><text x="19.6" y="257.7" font-size="7">2</text><text x="20" y="220.8" text-anchor="end">10</text><text x="19.6" y="216.2" font-size="7">4</text><text x="20" y="179.3" text-anchor="end">10</text><text x="19.6" y="174.7" font-size="7">6</text></g>
<text x="123.9" y="321.6" text-anchor="middle" class="tb" font-size="9.7">Magnitude</text>
<text transform="translate(6.8,233.95) rotate(-90)" text-anchor="middle" class="tb" font-size="9.7">No. of events</text>
<text transform="translate(30.6,184.9) scale(0.99,1)" font-family="Liberation Serif" font-size="18.2">c)</text>
<text transform="translate(99.9,180.55) scale(0.957,1)" text-anchor="start" class="ds" font-size="9.9">Jan 01, 2014–Mar 31, 2016</text>
<path d="M277.18 299.5V283.22h1.96V299.5ZM279.14 299.5V272.63h1.96V299.5ZM281.1 299.5V268.91h1.96V299.5ZM283.06 299.5V259.33h1.96V299.5ZM285.02 299.5V248.88h1.96V299.5ZM286.98 299.5V241.16h1.96V299.5ZM288.94 299.5V235.24h1.96V299.5ZM290.9 299.5V230.23h1.96V299.5ZM292.86 299.5V225.94h1.96V299.5ZM294.82 299.5V223.08h1.96V299.5ZM296.78 299.5V222.08h1.96V299.5ZM298.74 299.5V221.65h1.96V299.5ZM300.7 299.5V220.93h1.96V299.5ZM302.66 299.5V220.22h1.96V299.5ZM304.62 299.5V215.5h1.96V299.5ZM306.58 299.5V215.64h1.96V299.5ZM308.54 299.5V216.64h1.96V299.5ZM310.5 299.5V217.36h1.96V299.5ZM312.46 299.5V217.79h1.96V299.5ZM314.42 299.5V218.07h1.96V299.5ZM316.38 299.5V218.07h1.96V299.5ZM318.34 299.5V217.79h1.96V299.5ZM320.3 299.5V216.64h1.96V299.5ZM322.26 299.5V213.78h1.96V299.5ZM324.22 299.5V210.92h1.96V299.5ZM326.18 299.5V204.48h1.96V299.5ZM328.14 299.5V194.47h1.96V299.5ZM330.1 299.5V193.47h1.96V299.5ZM332.06 299.5V193.75h1.96V299.5ZM334.02 299.5V194.18h1.96V299.5ZM335.98 299.5V195.18h1.96V299.5ZM337.94 299.5V195.9h1.96V299.5ZM339.9 299.5V197.04h1.96V299.5ZM341.86 299.5V198.04h1.96V299.5ZM343.82 299.5V199.19h1.96V299.5ZM345.78 299.5V200.19h1.96V299.5ZM347.74 299.5V200.91h1.96V299.5ZM349.7 299.5V202.05h1.96V299.5ZM351.66 299.5V203.05h1.96V299.5ZM353.62 299.5V205.48h1.96V299.5ZM355.58 299.5V206.63h1.96V299.5ZM357.54 299.5V208.34h1.96V299.5ZM359.5 299.5V209.49h1.96V299.5ZM361.46 299.5V210.92h1.96V299.5ZM363.42 299.5V212.35h1.96V299.5ZM365.38 299.5V214.07h1.96V299.5ZM367.34 299.5V214.5h1.96V299.5ZM369.3 299.5V214.5h1.96V299.5ZM371.26 299.5V215.21h1.96V299.5ZM373.22 299.5V221.22h1.96V299.5ZM375.18 299.5V222.08h1.96V299.5ZM377.14 299.5V221.22h1.96V299.5ZM379.1 299.5V224.08h1.96V299.5ZM381.06 299.5V224.94h1.96V299.5ZM383.02 299.5V225.23h1.96V299.5ZM384.98 299.5V229.23h1.96V299.5ZM386.94 299.5V231.14h1.96V299.5ZM388.9 299.5V233.15h1.96V299.5ZM390.86 299.5V233.58h1.96V299.5ZM392.82 299.5V236.44h1.96V299.5ZM394.78 299.5V243.59h1.96V299.5ZM396.74 299.5V239.3h1.96V299.5ZM398.7 299.5V241.45h1.96V299.5ZM400.66 299.5V240.3h1.96V299.5ZM402.62 299.5V248.6h1.96V299.5ZM404.58 299.5V247.88h1.96V299.5ZM406.54 299.5V251.17h1.96V299.5ZM408.5 299.5V251.17h1.96V299.5ZM410.46 299.5V249.31h1.96V299.5ZM412.42 299.5V257.18h1.96V299.5ZM414.38 299.5V256.47h1.96V299.5ZM416.34 299.5V259.33h1.96V299.5ZM418.3 299.5V252.18h1.96V299.5ZM420.26 299.5V260.33h1.96V299.5ZM422.22 299.5V260.33h1.96V299.5ZM424.18 299.5V270.34h1.96V299.5ZM426.14 299.5V270.34h1.96V299.5ZM437.9 299.5V274.35h1.96V299.5ZM439.86 299.5V274.35h1.96V299.5ZM445.74 299.5V261.19h1.96V299.5Z" fill="#ff0000" fill-opacity="0.6"/>
<mask id="mbd" maskUnits="userSpaceOnUse" x="0" y="0" width="685" height="492"><rect width="685" height="492" fill="#fff"/><path d="M281.1 299.5V288.66h1.96V299.5ZM285.02 299.5V275.49h1.96V299.5ZM286.98 299.5V271.2h1.96V299.5ZM288.94 299.5V259.76h1.96V299.5ZM290.9 299.5V252.89h1.96V299.5ZM292.86 299.5V247.17h1.96V299.5ZM294.82 299.5V242.88h1.96V299.5ZM296.78 299.5V240.73h1.96V299.5ZM298.74 299.5V237.44h1.96V299.5ZM300.7 299.5V237.15h1.96V299.5ZM302.66 299.5V237.15h1.96V299.5ZM304.62 299.5V237.15h1.96V299.5ZM306.58 299.5V237.44h1.96V299.5ZM308.54 299.5V238.58h1.96V299.5ZM310.5 299.5V240.3h1.96V299.5ZM312.46 299.5V242.16h1.96V299.5ZM314.42 299.5V244.31h1.96V299.5ZM316.38 299.5V251.46h1.96V299.5ZM318.34 299.5V252.89h1.96V299.5ZM320.3 299.5V254.32h1.96V299.5ZM322.26 299.5V257.18h1.96V299.5ZM324.22 299.5V255.75h1.96V299.5ZM326.18 299.5V271.2h1.96V299.5ZM328.14 299.5V259.33h1.96V299.5ZM330.1 299.5V271.2h1.96V299.5ZM332.06 299.5V273.64h1.96V299.5ZM334.02 299.5V271.2h1.96V299.5ZM335.98 299.5V278.36h1.96V299.5ZM339.9 299.5V271.78h1.96V299.5ZM341.86 299.5V284.08h1.96V299.5ZM345.78 299.5V292.95h1.96V299.5Z" fill="#666"/></mask>
<path d="M277.18 299.5V283.22h1.96V299.5ZM279.14 299.5V272.63h1.96V299.5ZM281.1 299.5V268.91h1.96V299.5ZM283.06 299.5V259.33h1.96V299.5ZM285.02 299.5V248.88h1.96V299.5ZM286.98 299.5V241.16h1.96V299.5ZM288.94 299.5V235.24h1.96V299.5ZM290.9 299.5V230.23h1.96V299.5ZM292.86 299.5V225.94h1.96V299.5ZM294.82 299.5V223.08h1.96V299.5ZM296.78 299.5V222.08h1.96V299.5ZM298.74 299.5V221.65h1.96V299.5ZM300.7 299.5V220.93h1.96V299.5ZM302.66 299.5V220.22h1.96V299.5ZM304.62 299.5V215.5h1.96V299.5ZM306.58 299.5V215.64h1.96V299.5ZM308.54 299.5V216.64h1.96V299.5ZM310.5 299.5V217.36h1.96V299.5ZM312.46 299.5V217.79h1.96V299.5ZM314.42 299.5V218.07h1.96V299.5ZM316.38 299.5V218.07h1.96V299.5ZM318.34 299.5V217.79h1.96V299.5ZM320.3 299.5V216.64h1.96V299.5ZM322.26 299.5V213.78h1.96V299.5ZM324.22 299.5V210.92h1.96V299.5ZM326.18 299.5V204.48h1.96V299.5ZM328.14 299.5V194.47h1.96V299.5ZM330.1 299.5V193.47h1.96V299.5ZM332.06 299.5V193.75h1.96V299.5ZM334.02 299.5V194.18h1.96V299.5ZM335.98 299.5V195.18h1.96V299.5ZM337.94 299.5V195.9h1.96V299.5ZM339.9 299.5V197.04h1.96V299.5ZM341.86 299.5V198.04h1.96V299.5ZM343.82 299.5V199.19h1.96V299.5ZM345.78 299.5V200.19h1.96V299.5ZM347.74 299.5V200.91h1.96V299.5ZM349.7 299.5V202.05h1.96V299.5ZM351.66 299.5V203.05h1.96V299.5ZM353.62 299.5V205.48h1.96V299.5ZM355.58 299.5V206.63h1.96V299.5ZM357.54 299.5V208.34h1.96V299.5ZM359.5 299.5V209.49h1.96V299.5ZM361.46 299.5V210.92h1.96V299.5ZM363.42 299.5V212.35h1.96V299.5ZM365.38 299.5V214.07h1.96V299.5ZM367.34 299.5V214.5h1.96V299.5ZM369.3 299.5V214.5h1.96V299.5ZM371.26 299.5V215.21h1.96V299.5ZM373.22 299.5V221.22h1.96V299.5ZM375.18 299.5V222.08h1.96V299.5ZM377.14 299.5V221.22h1.96V299.5ZM379.1 299.5V224.08h1.96V299.5ZM381.06 299.5V224.94h1.96V299.5ZM383.02 299.5V225.23h1.96V299.5ZM384.98 299.5V229.23h1.96V299.5ZM386.94 299.5V231.14h1.96V299.5ZM388.9 299.5V233.15h1.96V299.5ZM390.86 299.5V233.58h1.96V299.5ZM392.82 299.5V236.44h1.96V299.5ZM394.78 299.5V243.59h1.96V299.5ZM396.74 299.5V239.3h1.96V299.5ZM398.7 299.5V241.45h1.96V299.5ZM400.66 299.5V240.3h1.96V299.5ZM402.62 299.5V248.6h1.96V299.5ZM404.58 299.5V247.88h1.96V299.5ZM406.54 299.5V251.17h1.96V299.5ZM408.5 299.5V251.17h1.96V299.5ZM410.46 299.5V249.31h1.96V299.5ZM412.42 299.5V257.18h1.96V299.5ZM414.38 299.5V256.47h1.96V299.5ZM416.34 299.5V259.33h1.96V299.5ZM418.3 299.5V252.18h1.96V299.5ZM420.26 299.5V260.33h1.96V299.5ZM422.22 299.5V260.33h1.96V299.5ZM424.18 299.5V270.34h1.96V299.5ZM426.14 299.5V270.34h1.96V299.5ZM437.9 299.5V274.35h1.96V299.5ZM439.86 299.5V274.35h1.96V299.5ZM445.74 299.5V261.19h1.96V299.5Z" fill="none" stroke="#000" stroke-width="0.35" stroke-opacity="0.55" mask="url(#mbd)"/>
<path d="M277.18 283.22h1.96M279.14 272.63h1.96M281.1 268.91h1.96M283.06 259.33h1.96M285.02 248.88h1.96M286.98 241.16h1.96M288.94 235.24h1.96M290.9 230.23h1.96M292.86 225.94h1.96M294.82 223.08h1.96M296.78 222.08h1.96M298.74 221.65h1.96M300.7 220.93h1.96M302.66 220.22h1.96M304.62 215.5h1.96M306.58 215.64h1.96M308.54 216.64h1.96M310.5 217.36h1.96M312.46 217.79h1.96M314.42 218.07h1.96M316.38 218.07h1.96M318.34 217.79h1.96M320.3 216.64h1.96M322.26 213.78h1.96M324.22 210.92h1.96M326.18 204.48h1.96M328.14 194.47h1.96M330.1 193.47h1.96M332.06 193.75h1.96M334.02 194.18h1.96M335.98 195.18h1.96M337.94 195.9h1.96M339.9 197.04h1.96M341.86 198.04h1.96M343.82 199.19h1.96M345.78 200.19h1.96M347.74 200.91h1.96M349.7 202.05h1.96M351.66 203.05h1.96M353.62 205.48h1.96M355.58 206.63h1.96M357.54 208.34h1.96M359.5 209.49h1.96M361.46 210.92h1.96M363.42 212.35h1.96M365.38 214.07h1.96M367.34 214.5h1.96M369.3 214.5h1.96M371.26 215.21h1.96M373.22 221.22h1.96M375.18 222.08h1.96M377.14 221.22h1.96M379.1 224.08h1.96M381.06 224.94h1.96M383.02 225.23h1.96M384.98 229.23h1.96M386.94 231.14h1.96M388.9 233.15h1.96M390.86 233.58h1.96M392.82 236.44h1.96M394.78 243.59h1.96M396.74 239.3h1.96M398.7 241.45h1.96M400.66 240.3h1.96M402.62 248.6h1.96M404.58 247.88h1.96M406.54 251.17h1.96M408.5 251.17h1.96M410.46 249.31h1.96M412.42 257.18h1.96M414.38 256.47h1.96M416.34 259.33h1.96M418.3 252.18h1.96M420.26 260.33h1.96M422.22 260.33h1.96M424.18 270.34h1.96M426.14 270.34h1.96M437.9 274.35h1.96M439.86 274.35h1.96M445.74 261.19h1.96" fill="none" stroke="#000" stroke-width="0.45" stroke-opacity="0.4"/>
<mask id="md" maskUnits="userSpaceOnUse" x="0" y="0" width="685" height="492"><rect width="685" height="492" fill="#fff"/><path d="M277.18 299.5V283.22h1.96V299.5ZM279.14 299.5V272.63h1.96V299.5ZM281.1 299.5V268.91h1.96V299.5ZM283.06 299.5V259.33h1.96V299.5ZM285.02 299.5V248.88h1.96V299.5ZM286.98 299.5V241.16h1.96V299.5ZM288.94 299.5V235.24h1.96V299.5ZM290.9 299.5V230.23h1.96V299.5ZM292.86 299.5V225.94h1.96V299.5ZM294.82 299.5V223.08h1.96V299.5ZM296.78 299.5V222.08h1.96V299.5ZM298.74 299.5V221.65h1.96V299.5ZM300.7 299.5V220.93h1.96V299.5ZM302.66 299.5V220.22h1.96V299.5ZM304.62 299.5V215.5h1.96V299.5ZM306.58 299.5V215.64h1.96V299.5ZM308.54 299.5V216.64h1.96V299.5ZM310.5 299.5V217.36h1.96V299.5ZM312.46 299.5V217.79h1.96V299.5ZM314.42 299.5V218.07h1.96V299.5ZM316.38 299.5V218.07h1.96V299.5ZM318.34 299.5V217.79h1.96V299.5ZM320.3 299.5V216.64h1.96V299.5ZM322.26 299.5V213.78h1.96V299.5ZM324.22 299.5V210.92h1.96V299.5ZM326.18 299.5V204.48h1.96V299.5ZM328.14 299.5V194.47h1.96V299.5ZM330.1 299.5V193.47h1.96V299.5ZM332.06 299.5V193.75h1.96V299.5ZM334.02 299.5V194.18h1.96V299.5ZM335.98 299.5V195.18h1.96V299.5ZM337.94 299.5V195.9h1.96V299.5ZM339.9 299.5V197.04h1.96V299.5ZM341.86 299.5V198.04h1.96V299.5ZM343.82 299.5V199.19h1.96V299.5ZM345.78 299.5V200.19h1.96V299.5ZM347.74 299.5V200.91h1.96V299.5ZM349.7 299.5V202.05h1.96V299.5ZM351.66 299.5V203.05h1.96V299.5ZM353.62 299.5V205.48h1.96V299.5ZM355.58 299.5V206.63h1.96V299.5ZM357.54 299.5V208.34h1.96V299.5ZM359.5 299.5V209.49h1.96V299.5ZM361.46 299.5V210.92h1.96V299.5ZM363.42 299.5V212.35h1.96V299.5ZM365.38 299.5V214.07h1.96V299.5ZM367.34 299.5V214.5h1.96V299.5ZM369.3 299.5V214.5h1.96V299.5ZM371.26 299.5V215.21h1.96V299.5ZM373.22 299.5V221.22h1.96V299.5ZM375.18 299.5V222.08h1.96V299.5ZM377.14 299.5V221.22h1.96V299.5ZM379.1 299.5V224.08h1.96V299.5ZM381.06 299.5V224.94h1.96V299.5ZM383.02 299.5V225.23h1.96V299.5ZM384.98 299.5V229.23h1.96V299.5ZM386.94 299.5V231.14h1.96V299.5ZM388.9 299.5V233.15h1.96V299.5ZM390.86 299.5V233.58h1.96V299.5ZM392.82 299.5V236.44h1.96V299.5ZM394.78 299.5V243.59h1.96V299.5ZM396.74 299.5V239.3h1.96V299.5ZM398.7 299.5V241.45h1.96V299.5ZM400.66 299.5V240.3h1.96V299.5ZM402.62 299.5V248.6h1.96V299.5ZM404.58 299.5V247.88h1.96V299.5ZM406.54 299.5V251.17h1.96V299.5ZM408.5 299.5V251.17h1.96V299.5ZM410.46 299.5V249.31h1.96V299.5ZM412.42 299.5V257.18h1.96V299.5ZM414.38 299.5V256.47h1.96V299.5ZM416.34 299.5V259.33h1.96V299.5ZM418.3 299.5V252.18h1.96V299.5ZM420.26 299.5V260.33h1.96V299.5ZM422.22 299.5V260.33h1.96V299.5ZM424.18 299.5V270.34h1.96V299.5ZM426.14 299.5V270.34h1.96V299.5ZM437.9 299.5V274.35h1.96V299.5ZM439.86 299.5V274.35h1.96V299.5ZM445.74 299.5V261.19h1.96V299.5Z" fill="#444" stroke="#444" stroke-width="0.4"/></mask>
<path d="M281.1 299.5V288.66h1.96V299.5ZM285.02 299.5V275.49h1.96V299.5ZM286.98 299.5V271.2h1.96V299.5ZM288.94 299.5V259.76h1.96V299.5ZM290.9 299.5V252.89h1.96V299.5ZM292.86 299.5V247.17h1.96V299.5ZM294.82 299.5V242.88h1.96V299.5ZM296.78 299.5V240.73h1.96V299.5ZM298.74 299.5V237.44h1.96V299.5ZM300.7 299.5V237.15h1.96V299.5ZM302.66 299.5V237.15h1.96V299.5ZM304.62 299.5V237.15h1.96V299.5ZM306.58 299.5V237.44h1.96V299.5ZM308.54 299.5V238.58h1.96V299.5ZM310.5 299.5V240.3h1.96V299.5ZM312.46 299.5V242.16h1.96V299.5ZM314.42 299.5V244.31h1.96V299.5ZM316.38 299.5V251.46h1.96V299.5ZM318.34 299.5V252.89h1.96V299.5ZM320.3 299.5V254.32h1.96V299.5ZM322.26 299.5V257.18h1.96V299.5ZM324.22 299.5V255.75h1.96V299.5ZM326.18 299.5V271.2h1.96V299.5ZM328.14 299.5V259.33h1.96V299.5ZM330.1 299.5V271.2h1.96V299.5ZM332.06 299.5V273.64h1.96V299.5ZM334.02 299.5V271.2h1.96V299.5ZM335.98 299.5V278.36h1.96V299.5ZM339.9 299.5V271.78h1.96V299.5ZM341.86 299.5V284.08h1.96V299.5ZM345.78 299.5V292.95h1.96V299.5Z" fill="#0000ff" fill-opacity="0.6"/>
<path d="M281.1 299.5V288.66h1.96V299.5ZM285.02 299.5V275.49h1.96V299.5ZM286.98 299.5V271.2h1.96V299.5ZM288.94 299.5V259.76h1.96V299.5ZM290.9 299.5V252.89h1.96V299.5ZM292.86 299.5V247.17h1.96V299.5ZM294.82 299.5V242.88h1.96V299.5ZM296.78 299.5V240.73h1.96V299.5ZM298.74 299.5V237.44h1.96V299.5ZM300.7 299.5V237.15h1.96V299.5ZM302.66 299.5V237.15h1.96V299.5ZM304.62 299.5V237.15h1.96V299.5ZM306.58 299.5V237.44h1.96V299.5ZM308.54 299.5V238.58h1.96V299.5ZM310.5 299.5V240.3h1.96V299.5ZM312.46 299.5V242.16h1.96V299.5ZM314.42 299.5V244.31h1.96V299.5ZM316.38 299.5V251.46h1.96V299.5ZM318.34 299.5V252.89h1.96V299.5ZM320.3 299.5V254.32h1.96V299.5ZM322.26 299.5V257.18h1.96V299.5ZM324.22 299.5V255.75h1.96V299.5ZM326.18 299.5V271.2h1.96V299.5ZM328.14 299.5V259.33h1.96V299.5ZM330.1 299.5V271.2h1.96V299.5ZM332.06 299.5V273.64h1.96V299.5ZM334.02 299.5V271.2h1.96V299.5ZM335.98 299.5V278.36h1.96V299.5ZM339.9 299.5V271.78h1.96V299.5ZM341.86 299.5V284.08h1.96V299.5ZM345.78 299.5V292.95h1.96V299.5Z" fill="none" stroke="#000" stroke-width="0.35" stroke-opacity="0.55" mask="url(#md)"/>
<path d="M281.1 288.66h1.96M285.02 275.49h1.96M286.98 271.2h1.96M288.94 259.76h1.96M290.9 252.89h1.96M292.86 247.17h1.96M294.82 242.88h1.96M296.78 240.73h1.96M298.74 237.44h1.96M300.7 237.15h1.96M302.66 237.15h1.96M304.62 237.15h1.96M306.58 237.44h1.96M308.54 238.58h1.96M310.5 240.3h1.96M312.46 242.16h1.96M314.42 244.31h1.96M316.38 251.46h1.96M318.34 252.89h1.96M320.3 254.32h1.96M322.26 257.18h1.96M324.22 255.75h1.96M326.18 271.2h1.96M328.14 259.33h1.96M330.1 271.2h1.96M332.06 273.64h1.96M334.02 271.2h1.96M335.98 278.36h1.96M339.9 271.78h1.96M341.86 284.08h1.96M345.78 292.95h1.96" fill="none" stroke="#000" stroke-width="0.45" stroke-opacity="0.4"/>
<rect x="256.6" y="168.4" width="196" height="131.1" fill="none" stroke="#222" stroke-width="1"/>
<path d="M256.6 299.5v-2.2M256.6 168.4v2.2M295.8 299.5v-2.2M295.8 168.4v2.2M335 299.5v-2.2M335 168.4v2.2M374.2 299.5v-2.2M374.2 168.4v2.2M413.4 299.5v-2.2M413.4 168.4v2.2M452.6 299.5v-2.2M452.6 168.4v2.2M256.6 299.5h3.0M452.6 299.5h-3.0M256.6 293.25h1.4M452.6 293.25h-1.4M256.6 289.6h1.4M452.6 289.6h-1.4M256.6 287.01h1.4M452.6 287.01h-1.4M256.6 285h1.4M452.6 285h-1.4M256.6 283.35h1.4M452.6 283.35h-1.4M256.6 281.96h1.4M452.6 281.96h-1.4M256.6 280.76h1.4M452.6 280.76h-1.4M256.6 279.7h1.4M452.6 279.7h-1.4M256.6 278.75h2.2M452.6 278.75h-2.2M256.6 272.5h1.4M452.6 272.5h-1.4M256.6 268.85h1.4M452.6 268.85h-1.4M256.6 266.26h1.4M452.6 266.26h-1.4M256.6 264.25h1.4M452.6 264.25h-1.4M256.6 262.6h1.4M452.6 262.6h-1.4M256.6 261.21h1.4M452.6 261.21h-1.4M256.6 260.01h1.4M452.6 260.01h-1.4M256.6 258.95h1.4M452.6 258.95h-1.4M256.6 258h3.0M452.6 258h-3.0M256.6 251.75h1.4M452.6 251.75h-1.4M256.6 248.1h1.4M452.6 248.1h-1.4M256.6 245.51h1.4M452.6 245.51h-1.4M256.6 243.5h1.4M452.6 243.5h-1.4M256.6 241.85h1.4M452.6 241.85h-1.4M256.6 240.46h1.4M452.6 240.46h-1.4M256.6 239.26h1.4M452.6 239.26h-1.4M256.6 238.2h1.4M452.6 238.2h-1.4M256.6 237.25h2.2M452.6 237.25h-2.2M256.6 231h1.4M452.6 231h-1.4M256.6 227.35h1.4M452.6 227.35h-1.4M256.6 224.76h1.4M452.6 224.76h-1.4M256.6 222.75h1.4M452.6 222.75h-1.4M256.6 221.1h1.4M452.6 221.1h-1.4M256.6 219.71h1.4M452.6 219.71h-1.4M256.6 218.51h1.4M452.6 218.51h-1.4M256.6 217.45h1.4M452.6 217.45h-1.4M256.6 216.5h3.0M452.6 216.5h-3.0M256.6 210.25h1.4M452.6 210.25h-1.4M256.6 206.6h1.4M452.6 206.6h-1.4M256.6 204.01h1.4M452.6 204.01h-1.4M256.6 202h1.4M452.6 202h-1.4M256.6 200.35h1.4M452.6 200.35h-1.4M256.6 198.96h1.4M452.6 198.96h-1.4M256.6 197.76h1.4M452.6 197.76h-1.4M256.6 196.7h1.4M452.6 196.7h-1.4M256.6 195.75h2.2M452.6 195.75h-2.2M256.6 189.5h1.4M452.6 189.5h-1.4M256.6 185.85h1.4M452.6 185.85h-1.4M256.6 183.26h1.4M452.6 183.26h-1.4M256.6 181.25h1.4M452.6 181.25h-1.4M256.6 179.6h1.4M452.6 179.6h-1.4M256.6 178.21h1.4M452.6 178.21h-1.4M256.6 177.01h1.4M452.6 177.01h-1.4M256.6 175.95h1.4M452.6 175.95h-1.4M256.6 175h3.0M452.6 175h-3.0" stroke="#222" stroke-width="0.8" fill="none"/>
<g class="tb" font-size="9.6"><text x="256.6" y="310.8" text-anchor="middle">-2</text><text x="295.8" y="310.8" text-anchor="middle">0</text><text x="335" y="310.8" text-anchor="middle">2</text><text x="374.2" y="310.8" text-anchor="middle">4</text><text x="413.4" y="310.8" text-anchor="middle">6</text><text x="452.6" y="310.8" text-anchor="middle">8</text><text x="250.7" y="303.8" text-anchor="end">10</text><text x="250.3" y="299.2" font-size="7">0</text><text x="250.7" y="262.3" text-anchor="end">10</text><text x="250.3" y="257.7" font-size="7">2</text><text x="250.7" y="220.8" text-anchor="end">10</text><text x="250.3" y="216.2" font-size="7">4</text><text x="250.7" y="179.3" text-anchor="end">10</text><text x="250.3" y="174.7" font-size="7">6</text></g>
<text x="354.6" y="321.6" text-anchor="middle" class="tb" font-size="9.7">Magnitude</text>
<text transform="translate(237.5,233.95) rotate(-90)" text-anchor="middle" class="tb" font-size="9.7">No. of events</text>
<text transform="translate(264.2,185.1) scale(1.04,1)" font-family="Liberation Serif" font-size="18.2">d)</text>
<text transform="translate(330.6,180.55) scale(0.957,1)" text-anchor="start" class="ds" font-size="9.9">Apr 01, 2016–Mar 21, 2018</text>
<path d="M535.32 299.5V286.5h1.96V299.5ZM537.28 299.5V270.8h1.96V299.5ZM539.24 299.5V272.9h1.96V299.5ZM541.2 299.5V273.6h1.96V299.5ZM543.16 299.5V276.5h1.96V299.5ZM545.12 299.5V261.6h1.96V299.5ZM547.08 299.5V263h1.96V299.5ZM549.04 299.5V257.2h1.96V299.5ZM551 299.5V253h1.96V299.5ZM552.96 299.5V242.3h1.96V299.5ZM554.92 299.5V231.66h1.96V299.5ZM556.88 299.5V210.92h1.96V299.5ZM558.84 299.5V192.32h1.96V299.5ZM560.8 299.5V190.6h1.96V299.5ZM562.76 299.5V190.89h1.96V299.5ZM564.72 299.5V191.61h1.96V299.5ZM566.68 299.5V192.32h1.96V299.5ZM568.64 299.5V193.04h1.96V299.5ZM570.6 299.5V194.04h1.96V299.5ZM572.56 299.5V195.18h1.96V299.5ZM574.52 299.5V196.33h1.96V299.5ZM576.48 299.5V197.33h1.96V299.5ZM578.44 299.5V198.33h1.96V299.5ZM580.4 299.5V199.76h1.96V299.5ZM582.36 299.5V201.19h1.96V299.5ZM584.32 299.5V203.05h1.96V299.5ZM586.28 299.5V204.48h1.96V299.5ZM588.24 299.5V205.48h1.96V299.5ZM590.2 299.5V206.34h1.96V299.5ZM592.16 299.5V208.06h1.96V299.5ZM594.12 299.5V208.77h1.96V299.5ZM596.08 299.5V210.2h1.96V299.5ZM598.04 299.5V210.92h1.96V299.5ZM600 299.5V212.06h1.96V299.5ZM601.96 299.5V213.49h1.96V299.5ZM603.92 299.5V215.21h1.96V299.5ZM605.88 299.5V217.36h1.96V299.5ZM607.84 299.5V218.79h1.96V299.5ZM609.8 299.5V220.65h1.96V299.5ZM611.76 299.5V222.08h1.96V299.5ZM613.72 299.5V223.51h1.96V299.5ZM615.68 299.5V224.94h1.96V299.5ZM617.64 299.5V226.66h1.96V299.5ZM619.6 299.5V228.8h1.96V299.5ZM621.56 299.5V230.23h1.96V299.5ZM623.52 299.5V231.14h1.96V299.5ZM625.48 299.5V234.29h1.96V299.5ZM627.44 299.5V236.01h1.96V299.5ZM629.4 299.5V239.3h1.96V299.5ZM631.36 299.5V239.73h1.96V299.5ZM633.32 299.5V243.16h1.96V299.5ZM635.28 299.5V241.45h1.96V299.5ZM637.24 299.5V248.31h1.96V299.5ZM639.2 299.5V244.31h1.96V299.5ZM641.16 299.5V250.74h1.96V299.5ZM643.12 299.5V252.18h1.96V299.5ZM645.08 299.5V250.74h1.96V299.5ZM647.04 299.5V252.18h1.96V299.5ZM649 299.5V253.18h1.96V299.5ZM650.96 299.5V263.19h1.96V299.5ZM652.92 299.5V260.33h1.96V299.5ZM654.88 299.5V264.34h1.96V299.5ZM656.84 299.5V258.9h1.96V299.5ZM658.8 299.5V263.19h1.96V299.5ZM660.76 299.5V276.07h1.96V299.5ZM666.64 299.5V276.93h1.96V299.5ZM668.6 299.5V280.07h1.96V299.5Z" fill="#ff0000" fill-opacity="0.6"/>
<mask id="mbe" maskUnits="userSpaceOnUse" x="0" y="0" width="685" height="492"><rect width="685" height="492" fill="#fff"/><path d="M511.8 299.5V282.9h1.96V299.5ZM513.76 299.5V288.9h1.96V299.5ZM515.72 299.5V272.2h1.96V299.5ZM517.68 299.5V264h1.96V299.5ZM519.64 299.5V256h1.96V299.5ZM521.6 299.5V251.2h1.96V299.5ZM523.56 299.5V242.2h1.96V299.5ZM525.52 299.5V236.5h1.96V299.5ZM527.48 299.5V233.6h1.96V299.5ZM529.44 299.5V232.1h1.96V299.5ZM531.4 299.5V231.2h1.96V299.5ZM533.36 299.5V230.9h1.96V299.5ZM535.32 299.5V230.9h1.96V299.5ZM537.28 299.5V232h1.96V299.5ZM539.24 299.5V233.1h1.96V299.5ZM541.2 299.5V234.2h1.96V299.5ZM543.16 299.5V235.7h1.96V299.5ZM545.12 299.5V237.8h1.96V299.5ZM547.08 299.5V240.4h1.96V299.5ZM549.04 299.5V243.5h1.96V299.5ZM551 299.5V245.5h1.96V299.5ZM552.96 299.5V247.9h1.96V299.5ZM554.92 299.5V252.5h1.96V299.5ZM556.88 299.5V254.6h1.96V299.5ZM558.84 299.5V255h1.96V299.5ZM560.8 299.5V275.8h1.96V299.5ZM562.76 299.5V268.3h1.96V299.5ZM564.72 299.5V269.2h1.96V299.5ZM568.64 299.5V284.6h1.96V299.5Z" fill="#666"/></mask>
<path d="M535.32 299.5V286.5h1.96V299.5ZM537.28 299.5V270.8h1.96V299.5ZM539.24 299.5V272.9h1.96V299.5ZM541.2 299.5V273.6h1.96V299.5ZM543.16 299.5V276.5h1.96V299.5ZM545.12 299.5V261.6h1.96V299.5ZM547.08 299.5V263h1.96V299.5ZM549.04 299.5V257.2h1.96V299.5ZM551 299.5V253h1.96V299.5ZM552.96 299.5V242.3h1.96V299.5ZM554.92 299.5V231.66h1.96V299.5ZM556.88 299.5V210.92h1.96V299.5ZM558.84 299.5V192.32h1.96V299.5ZM560.8 299.5V190.6h1.96V299.5ZM562.76 299.5V190.89h1.96V299.5ZM564.72 299.5V191.61h1.96V299.5ZM566.68 299.5V192.32h1.96V299.5ZM568.64 299.5V193.04h1.96V299.5ZM570.6 299.5V194.04h1.96V299.5ZM572.56 299.5V195.18h1.96V299.5ZM574.52 299.5V196.33h1.96V299.5ZM576.48 299.5V197.33h1.96V299.5ZM578.44 299.5V198.33h1.96V299.5ZM580.4 299.5V199.76h1.96V299.5ZM582.36 299.5V201.19h1.96V299.5ZM584.32 299.5V203.05h1.96V299.5ZM586.28 299.5V204.48h1.96V299.5ZM588.24 299.5V205.48h1.96V299.5ZM590.2 299.5V206.34h1.96V299.5ZM592.16 299.5V208.06h1.96V299.5ZM594.12 299.5V208.77h1.96V299.5ZM596.08 299.5V210.2h1.96V299.5ZM598.04 299.5V210.92h1.96V299.5ZM600 299.5V212.06h1.96V299.5ZM601.96 299.5V213.49h1.96V299.5ZM603.92 299.5V215.21h1.96V299.5ZM605.88 299.5V217.36h1.96V299.5ZM607.84 299.5V218.79h1.96V299.5ZM609.8 299.5V220.65h1.96V299.5ZM611.76 299.5V222.08h1.96V299.5ZM613.72 299.5V223.51h1.96V299.5ZM615.68 299.5V224.94h1.96V299.5ZM617.64 299.5V226.66h1.96V299.5ZM619.6 299.5V228.8h1.96V299.5ZM621.56 299.5V230.23h1.96V299.5ZM623.52 299.5V231.14h1.96V299.5ZM625.48 299.5V234.29h1.96V299.5ZM627.44 299.5V236.01h1.96V299.5ZM629.4 299.5V239.3h1.96V299.5ZM631.36 299.5V239.73h1.96V299.5ZM633.32 299.5V243.16h1.96V299.5ZM635.28 299.5V241.45h1.96V299.5ZM637.24 299.5V248.31h1.96V299.5ZM639.2 299.5V244.31h1.96V299.5ZM641.16 299.5V250.74h1.96V299.5ZM643.12 299.5V252.18h1.96V299.5ZM645.08 299.5V250.74h1.96V299.5ZM647.04 299.5V252.18h1.96V299.5ZM649 299.5V253.18h1.96V299.5ZM650.96 299.5V263.19h1.96V299.5ZM652.92 299.5V260.33h1.96V299.5ZM654.88 299.5V264.34h1.96V299.5ZM656.84 299.5V258.9h1.96V299.5ZM658.8 299.5V263.19h1.96V299.5ZM660.76 299.5V276.07h1.96V299.5ZM666.64 299.5V276.93h1.96V299.5ZM668.6 299.5V280.07h1.96V299.5Z" fill="none" stroke="#000" stroke-width="0.35" stroke-opacity="0.55" mask="url(#mbe)"/>
<path d="M535.32 286.5h1.96M537.28 270.8h1.96M539.24 272.9h1.96M541.2 273.6h1.96M543.16 276.5h1.96M545.12 261.6h1.96M547.08 263h1.96M549.04 257.2h1.96M551 253h1.96M552.96 242.3h1.96M554.92 231.66h1.96M556.88 210.92h1.96M558.84 192.32h1.96M560.8 190.6h1.96M562.76 190.89h1.96M564.72 191.61h1.96M566.68 192.32h1.96M568.64 193.04h1.96M570.6 194.04h1.96M572.56 195.18h1.96M574.52 196.33h1.96M576.48 197.33h1.96M578.44 198.33h1.96M580.4 199.76h1.96M582.36 201.19h1.96M584.32 203.05h1.96M586.28 204.48h1.96M588.24 205.48h1.96M590.2 206.34h1.96M592.16 208.06h1.96M594.12 208.77h1.96M596.08 210.2h1.96M598.04 210.92h1.96M600 212.06h1.96M601.96 213.49h1.96M603.92 215.21h1.96M605.88 217.36h1.96M607.84 218.79h1.96M609.8 220.65h1.96M611.76 222.08h1.96M613.72 223.51h1.96M615.68 224.94h1.96M617.64 226.66h1.96M619.6 228.8h1.96M621.56 230.23h1.96M623.52 231.14h1.96M625.48 234.29h1.96M627.44 236.01h1.96M629.4 239.3h1.96M631.36 239.73h1.96M633.32 243.16h1.96M635.28 241.45h1.96M637.24 248.31h1.96M639.2 244.31h1.96M641.16 250.74h1.96M643.12 252.18h1.96M645.08 250.74h1.96M647.04 252.18h1.96M649 253.18h1.96M650.96 263.19h1.96M652.92 260.33h1.96M654.88 264.34h1.96M656.84 258.9h1.96M658.8 263.19h1.96M660.76 276.07h1.96M666.64 276.93h1.96M668.6 280.07h1.96" fill="none" stroke="#000" stroke-width="0.45" stroke-opacity="0.4"/>
<mask id="me" maskUnits="userSpaceOnUse" x="0" y="0" width="685" height="492"><rect width="685" height="492" fill="#fff"/><path d="M535.32 299.5V286.5h1.96V299.5ZM537.28 299.5V270.8h1.96V299.5ZM539.24 299.5V272.9h1.96V299.5ZM541.2 299.5V273.6h1.96V299.5ZM543.16 299.5V276.5h1.96V299.5ZM545.12 299.5V261.6h1.96V299.5ZM547.08 299.5V263h1.96V299.5ZM549.04 299.5V257.2h1.96V299.5ZM551 299.5V253h1.96V299.5ZM552.96 299.5V242.3h1.96V299.5ZM554.92 299.5V231.66h1.96V299.5ZM556.88 299.5V210.92h1.96V299.5ZM558.84 299.5V192.32h1.96V299.5ZM560.8 299.5V190.6h1.96V299.5ZM562.76 299.5V190.89h1.96V299.5ZM564.72 299.5V191.61h1.96V299.5ZM566.68 299.5V192.32h1.96V299.5ZM568.64 299.5V193.04h1.96V299.5ZM570.6 299.5V194.04h1.96V299.5ZM572.56 299.5V195.18h1.96V299.5ZM574.52 299.5V196.33h1.96V299.5ZM576.48 299.5V197.33h1.96V299.5ZM578.44 299.5V198.33h1.96V299.5ZM580.4 299.5V199.76h1.96V299.5ZM582.36 299.5V201.19h1.96V299.5ZM584.32 299.5V203.05h1.96V299.5ZM586.28 299.5V204.48h1.96V299.5ZM588.24 299.5V205.48h1.96V299.5ZM590.2 299.5V206.34h1.96V299.5ZM592.16 299.5V208.06h1.96V299.5ZM594.12 299.5V208.77h1.96V299.5ZM596.08 299.5V210.2h1.96V299.5ZM598.04 299.5V210.92h1.96V299.5ZM600 299.5V212.06h1.96V299.5ZM601.96 299.5V213.49h1.96V299.5ZM603.92 299.5V215.21h1.96V299.5ZM605.88 299.5V217.36h1.96V299.5ZM607.84 299.5V218.79h1.96V299.5ZM609.8 299.5V220.65h1.96V299.5ZM611.76 299.5V222.08h1.96V299.5ZM613.72 299.5V223.51h1.96V299.5ZM615.68 299.5V224.94h1.96V299.5ZM617.64 299.5V226.66h1.96V299.5ZM619.6 299.5V228.8h1.96V299.5ZM621.56 299.5V230.23h1.96V299.5ZM623.52 299.5V231.14h1.96V299.5ZM625.48 299.5V234.29h1.96V299.5ZM627.44 299.5V236.01h1.96V299.5ZM629.4 299.5V239.3h1.96V299.5ZM631.36 299.5V239.73h1.96V299.5ZM633.32 299.5V243.16h1.96V299.5ZM635.28 299.5V241.45h1.96V299.5ZM637.24 299.5V248.31h1.96V299.5ZM639.2 299.5V244.31h1.96V299.5ZM641.16 299.5V250.74h1.96V299.5ZM643.12 299.5V252.18h1.96V299.5ZM645.08 299.5V250.74h1.96V299.5ZM647.04 299.5V252.18h1.96V299.5ZM649 299.5V253.18h1.96V299.5ZM650.96 299.5V263.19h1.96V299.5ZM652.92 299.5V260.33h1.96V299.5ZM654.88 299.5V264.34h1.96V299.5ZM656.84 299.5V258.9h1.96V299.5ZM658.8 299.5V263.19h1.96V299.5ZM660.76 299.5V276.07h1.96V299.5ZM666.64 299.5V276.93h1.96V299.5ZM668.6 299.5V280.07h1.96V299.5Z" fill="#444" stroke="#444" stroke-width="0.4"/></mask>
<path d="M511.8 299.5V282.9h1.96V299.5ZM513.76 299.5V288.9h1.96V299.5ZM515.72 299.5V272.2h1.96V299.5ZM517.68 299.5V264h1.96V299.5ZM519.64 299.5V256h1.96V299.5ZM521.6 299.5V251.2h1.96V299.5ZM523.56 299.5V242.2h1.96V299.5ZM525.52 299.5V236.5h1.96V299.5ZM527.48 299.5V233.6h1.96V299.5ZM529.44 299.5V232.1h1.96V299.5ZM531.4 299.5V231.2h1.96V299.5ZM533.36 299.5V230.9h1.96V299.5ZM535.32 299.5V230.9h1.96V299.5ZM537.28 299.5V232h1.96V299.5ZM539.24 299.5V233.1h1.96V299.5ZM541.2 299.5V234.2h1.96V299.5ZM543.16 299.5V235.7h1.96V299.5ZM545.12 299.5V237.8h1.96V299.5ZM547.08 299.5V240.4h1.96V299.5ZM549.04 299.5V243.5h1.96V299.5ZM551 299.5V245.5h1.96V299.5ZM552.96 299.5V247.9h1.96V299.5ZM554.92 299.5V252.5h1.96V299.5ZM556.88 299.5V254.6h1.96V299.5ZM558.84 299.5V255h1.96V299.5ZM560.8 299.5V275.8h1.96V299.5ZM562.76 299.5V268.3h1.96V299.5ZM564.72 299.5V269.2h1.96V299.5ZM568.64 299.5V284.6h1.96V299.5Z" fill="#0000ff" fill-opacity="0.6"/>
<path d="M511.8 299.5V282.9h1.96V299.5ZM513.76 299.5V288.9h1.96V299.5ZM515.72 299.5V272.2h1.96V299.5ZM517.68 299.5V264h1.96V299.5ZM519.64 299.5V256h1.96V299.5ZM521.6 299.5V251.2h1.96V299.5ZM523.56 299.5V242.2h1.96V299.5ZM525.52 299.5V236.5h1.96V299.5ZM527.48 299.5V233.6h1.96V299.5ZM529.44 299.5V232.1h1.96V299.5ZM531.4 299.5V231.2h1.96V299.5ZM533.36 299.5V230.9h1.96V299.5ZM535.32 299.5V230.9h1.96V299.5ZM537.28 299.5V232h1.96V299.5ZM539.24 299.5V233.1h1.96V299.5ZM541.2 299.5V234.2h1.96V299.5ZM543.16 299.5V235.7h1.96V299.5ZM545.12 299.5V237.8h1.96V299.5ZM547.08 299.5V240.4h1.96V299.5ZM549.04 299.5V243.5h1.96V299.5ZM551 299.5V245.5h1.96V299.5ZM552.96 299.5V247.9h1.96V299.5ZM554.92 299.5V252.5h1.96V299.5ZM556.88 299.5V254.6h1.96V299.5ZM558.84 299.5V255h1.96V299.5ZM560.8 299.5V275.8h1.96V299.5ZM562.76 299.5V268.3h1.96V299.5ZM564.72 299.5V269.2h1.96V299.5ZM568.64 299.5V284.6h1.96V299.5Z" fill="none" stroke="#000" stroke-width="0.35" stroke-opacity="0.55" mask="url(#me)"/>
<path d="M511.8 282.9h1.96M513.76 288.9h1.96M515.72 272.2h1.96M517.68 264h1.96M519.64 256h1.96M521.6 251.2h1.96M523.56 242.2h1.96M525.52 236.5h1.96M527.48 233.6h1.96M529.44 232.1h1.96M531.4 231.2h1.96M533.36 230.9h1.96M535.32 230.9h1.96M537.28 232h1.96M539.24 233.1h1.96M541.2 234.2h1.96M543.16 235.7h1.96M545.12 237.8h1.96M547.08 240.4h1.96M549.04 243.5h1.96M551 245.5h1.96M552.96 247.9h1.96M554.92 252.5h1.96M556.88 254.6h1.96M558.84 255h1.96M560.8 275.8h1.96M562.76 268.3h1.96M564.72 269.2h1.96M568.64 284.6h1.96" fill="none" stroke="#000" stroke-width="0.45" stroke-opacity="0.4"/>
<rect x="487.3" y="168.4" width="196" height="131.1" fill="none" stroke="#222" stroke-width="1"/>
<path d="M487.3 299.5v-2.2M487.3 168.4v2.2M526.5 299.5v-2.2M526.5 168.4v2.2M565.7 299.5v-2.2M565.7 168.4v2.2M604.9 299.5v-2.2M604.9 168.4v2.2M644.1 299.5v-2.2M644.1 168.4v2.2M683.3 299.5v-2.2M683.3 168.4v2.2M487.3 299.5h3.0M683.3 299.5h-3.0M487.3 293.25h1.4M683.3 293.25h-1.4M487.3 289.6h1.4M683.3 289.6h-1.4M487.3 287.01h1.4M683.3 287.01h-1.4M487.3 285h1.4M683.3 285h-1.4M487.3 283.35h1.4M683.3 283.35h-1.4M487.3 281.96h1.4M683.3 281.96h-1.4M487.3 280.76h1.4M683.3 280.76h-1.4M487.3 279.7h1.4M683.3 279.7h-1.4M487.3 278.75h2.2M683.3 278.75h-2.2M487.3 272.5h1.4M683.3 272.5h-1.4M487.3 268.85h1.4M683.3 268.85h-1.4M487.3 266.26h1.4M683.3 266.26h-1.4M487.3 264.25h1.4M683.3 264.25h-1.4M487.3 262.6h1.4M683.3 262.6h-1.4M487.3 261.21h1.4M683.3 261.21h-1.4M487.3 260.01h1.4M683.3 260.01h-1.4M487.3 258.95h1.4M683.3 258.95h-1.4M487.3 258h3.0M683.3 258h-3.0M487.3 251.75h1.4M683.3 251.75h-1.4M487.3 248.1h1.4M683.3 248.1h-1.4M487.3 245.51h1.4M683.3 245.51h-1.4M487.3 243.5h1.4M683.3 243.5h-1.4M487.3 241.85h1.4M683.3 241.85h-1.4M487.3 240.46h1.4M683.3 240.46h-1.4M487.3 239.26h1.4M683.3 239.26h-1.4M487.3 238.2h1.4M683.3 238.2h-1.4M487.3 237.25h2.2M683.3 237.25h-2.2M487.3 231h1.4M683.3 231h-1.4M487.3 227.35h1.4M683.3 227.35h-1.4M487.3 224.76h1.4M683.3 224.76h-1.4M487.3 222.75h1.4M683.3 222.75h-1.4M487.3 221.1h1.4M683.3 221.1h-1.4M487.3 219.71h1.4M683.3 219.71h-1.4M487.3 218.51h1.4M683.3 218.51h-1.4M487.3 217.45h1.4M683.3 217.45h-1.4M487.3 216.5h3.0M683.3 216.5h-3.0M487.3 210.25h1.4M683.3 210.25h-1.4M487.3 206.6h1.4M683.3 206.6h-1.4M487.3 204.01h1.4M683.3 204.01h-1.4M487.3 202h1.4M683.3 202h-1.4M487.3 200.35h1.4M683.3 200.35h-1.4M487.3 198.96h1.4M683.3 198.96h-1.4M487.3 197.76h1.4M683.3 197.76h-1.4M487.3 196.7h1.4M683.3 196.7h-1.4M487.3 195.75h2.2M683.3 195.75h-2.2M487.3 189.5h1.4M683.3 189.5h-1.4M487.3 185.85h1.4M683.3 185.85h-1.4M487.3 183.26h1.4M683.3 183.26h-1.4M487.3 181.25h1.4M683.3 181.25h-1.4M487.3 179.6h1.4M683.3 179.6h-1.4M487.3 178.21h1.4M683.3 178.21h-1.4M487.3 177.01h1.4M683.3 177.01h-1.4M487.3 175.95h1.4M683.3 175.95h-1.4M487.3 175h3.0M683.3 175h-3.0" stroke="#222" stroke-width="0.8" fill="none"/>
<g class="tb" font-size="9.6"><text x="487.3" y="310.8" text-anchor="middle">-2</text><text x="526.5" y="310.8" text-anchor="middle">0</text><text x="565.7" y="310.8" text-anchor="middle">2</text><text x="604.9" y="310.8" text-anchor="middle">4</text><text x="644.1" y="310.8" text-anchor="middle">6</text><text x="683.3" y="310.8" text-anchor="middle">8</text><text x="481.4" y="303.8" text-anchor="end">10</text><text x="481" y="299.2" font-size="7">0</text><text x="481.4" y="262.3" text-anchor="end">10</text><text x="481" y="257.7" font-size="7">2</text><text x="481.4" y="220.8" text-anchor="end">10</text><text x="481" y="216.2" font-size="7">4</text><text x="481.4" y="179.3" text-anchor="end">10</text><text x="481" y="174.7" font-size="7">6</text></g>
<text x="585.3" y="321.6" text-anchor="middle" class="tb" font-size="9.7">Magnitude</text>
<text transform="translate(468.2,233.95) rotate(-90)" text-anchor="middle" class="tb" font-size="9.7">No. of events</text>
<text transform="translate(490.4,184.9) scale(1.09,1)" font-family="Liberation Serif" font-size="18.2">e)</text>
<text transform="translate(561.3,180.55) scale(0.957,1)" text-anchor="start" class="ds" font-size="9.9">Mar 22, 2018–Dec 31, 2021</text>
<path d="M38.64 467.6V454.94h1.96V467.6ZM40.6 467.6V445.5h1.96V467.6ZM42.56 467.6V439.2h1.96V467.6ZM44.52 467.6V431.19h1.96V467.6ZM46.48 467.6V422.32h1.96V467.6ZM48.44 467.6V416.31h1.96V467.6ZM50.4 467.6V411.16h1.96V467.6ZM52.36 467.6V401.09h1.96V467.6ZM54.32 467.6V395.37h1.96V467.6ZM56.28 467.6V391.08h1.96V467.6ZM58.24 467.6V385.79h1.96V467.6ZM60.2 467.6V382.07h1.96V467.6ZM62.16 467.6V378.2h1.96V467.6ZM64.12 467.6V374.91h1.96V467.6ZM66.08 467.6V372.91h1.96V467.6ZM68.04 467.6V371.05h1.96V467.6ZM70 467.6V369.62h1.96V467.6ZM71.96 467.6V368.62h1.96V467.6ZM73.92 467.6V367.76h1.96V467.6ZM75.88 467.6V367.19h1.96V467.6ZM77.84 467.6V366.9h1.96V467.6ZM79.8 467.6V366.76h1.96V467.6ZM81.76 467.6V366.76h1.96V467.6ZM83.72 467.6V366.9h1.96V467.6ZM85.68 467.6V367.19h1.96V467.6ZM87.64 467.6V367.47h1.96V467.6ZM89.6 467.6V367.76h1.96V467.6ZM91.56 467.6V367.47h1.96V467.6ZM93.52 467.6V367.19h1.96V467.6ZM95.48 467.6V367.19h1.96V467.6ZM97.44 467.6V367.47h1.96V467.6ZM99.4 467.6V367.76h1.96V467.6ZM101.36 467.6V368.19h1.96V467.6ZM103.32 467.6V368.62h1.96V467.6ZM105.28 467.6V369.19h1.96V467.6ZM107.24 467.6V370.05h1.96V467.6ZM109.2 467.6V371.05h1.96V467.6ZM111.16 467.6V371.77h1.96V467.6ZM113.12 467.6V372.48h1.96V467.6ZM115.08 467.6V373.2h1.96V467.6ZM117.04 467.6V373.91h1.96V467.6ZM119 467.6V374.91h1.96V467.6ZM120.96 467.6V376.06h1.96V467.6ZM122.92 467.6V377.78h1.96V467.6ZM124.88 467.6V378.92h1.96V467.6ZM126.84 467.6V380.35h1.96V467.6ZM128.8 467.6V381.49h1.96V467.6ZM130.76 467.6V382.93h1.96V467.6ZM132.72 467.6V384.36h1.96V467.6ZM134.68 467.6V385.36h1.96V467.6ZM136.64 467.6V386.79h1.96V467.6ZM138.6 467.6V387.79h1.96V467.6ZM140.56 467.6V387.22h1.96V467.6ZM142.52 467.6V393.23h1.96V467.6ZM144.48 467.6V393.23h1.96V467.6ZM146.44 467.6V394.37h1.96V467.6ZM148.4 467.6V397.23h1.96V467.6ZM150.36 467.6V398.95h1.96V467.6ZM152.32 467.6V400.86h1.96V467.6ZM154.28 467.6V401.58h1.96V467.6ZM156.24 467.6V402.01h1.96V467.6ZM158.2 467.6V405.87h1.96V467.6ZM160.16 467.6V404.44h1.96V467.6ZM162.12 467.6V408.3h1.96V467.6ZM164.08 467.6V408.73h1.96V467.6ZM166.04 467.6V411.59h1.96V467.6ZM168 467.6V413.02h1.96V467.6ZM169.96 467.6V415.17h1.96V467.6ZM171.92 467.6V424.04h1.96V467.6ZM173.88 467.6V420.18h1.96V467.6ZM175.84 467.6V418.32h1.96V467.6ZM177.8 467.6V429.19h1.96V467.6ZM179.76 467.6V425.47h1.96V467.6ZM181.72 467.6V426.33h1.96V467.6ZM183.68 467.6V444.93h1.96V467.6ZM185.64 467.6V434.48h1.96V467.6ZM187.6 467.6V425.18h1.96V467.6ZM189.56 467.6V430.62h1.96V467.6ZM191.52 467.6V440.92h1.96V467.6ZM193.48 467.6V457.37h1.96V467.6ZM197.4 467.6V435.48h1.96V467.6ZM201.32 467.6V440.2h1.96V467.6ZM203.28 467.6V437.77h1.96V467.6ZM207.2 467.6V443.07h1.96V467.6Z" fill="#ff0000" fill-opacity="0.6"/>
<mask id="mbf" maskUnits="userSpaceOnUse" x="0" y="0" width="685" height="492"><rect width="685" height="492" fill="#fff"/><path d="M56.28 467.6V446.36h1.96V467.6ZM58.24 467.6V442.06h1.96V467.6ZM60.2 467.6V443.07h1.96V467.6ZM62.16 467.6V425.47h1.96V467.6ZM64.12 467.6V423.04h1.96V467.6ZM66.08 467.6V419.46h1.96V467.6ZM68.04 467.6V416.31h1.96V467.6ZM70 467.6V414.45h1.96V467.6ZM71.96 467.6V414.02h1.96V467.6ZM73.92 467.6V413.74h1.96V467.6ZM75.88 467.6V414.02h1.96V467.6ZM77.84 467.6V414.45h1.96V467.6ZM79.8 467.6V416.6h1.96V467.6ZM81.76 467.6V420.18h1.96V467.6ZM83.72 467.6V422.32h1.96V467.6ZM85.68 467.6V424.04h1.96V467.6ZM87.64 467.6V428.76h1.96V467.6ZM89.6 467.6V421.18h1.96V467.6ZM91.56 467.6V429.76h1.96V467.6ZM93.52 467.6V436.34h1.96V467.6ZM95.48 467.6V440.92h1.96V467.6ZM97.44 467.6V448.36h1.96V467.6ZM99.4 467.6V438.77h1.96V467.6ZM101.36 467.6V460.95h1.96V467.6ZM103.32 467.6V465.24h1.96V467.6ZM105.28 467.6V448.36h1.96V467.6Z" fill="#666"/></mask>
<path d="M38.64 467.6V454.94h1.96V467.6ZM40.6 467.6V445.5h1.96V467.6ZM42.56 467.6V439.2h1.96V467.6ZM44.52 467.6V431.19h1.96V467.6ZM46.48 467.6V422.32h1.96V467.6ZM48.44 467.6V416.31h1.96V467.6ZM50.4 467.6V411.16h1.96V467.6ZM52.36 467.6V401.09h1.96V467.6ZM54.32 467.6V395.37h1.96V467.6ZM56.28 467.6V391.08h1.96V467.6ZM58.24 467.6V385.79h1.96V467.6ZM60.2 467.6V382.07h1.96V467.6ZM62.16 467.6V378.2h1.96V467.6ZM64.12 467.6V374.91h1.96V467.6ZM66.08 467.6V372.91h1.96V467.6ZM68.04 467.6V371.05h1.96V467.6ZM70 467.6V369.62h1.96V467.6ZM71.96 467.6V368.62h1.96V467.6ZM73.92 467.6V367.76h1.96V467.6ZM75.88 467.6V367.19h1.96V467.6ZM77.84 467.6V366.9h1.96V467.6ZM79.8 467.6V366.76h1.96V467.6ZM81.76 467.6V366.76h1.96V467.6ZM83.72 467.6V366.9h1.96V467.6ZM85.68 467.6V367.19h1.96V467.6ZM87.64 467.6V367.47h1.96V467.6ZM89.6 467.6V367.76h1.96V467.6ZM91.56 467.6V367.47h1.96V467.6ZM93.52 467.6V367.19h1.96V467.6ZM95.48 467.6V367.19h1.96V467.6ZM97.44 467.6V367.47h1.96V467.6ZM99.4 467.6V367.76h1.96V467.6ZM101.36 467.6V368.19h1.96V467.6ZM103.32 467.6V368.62h1.96V467.6ZM105.28 467.6V369.19h1.96V467.6ZM107.24 467.6V370.05h1.96V467.6ZM109.2 467.6V371.05h1.96V467.6ZM111.16 467.6V371.77h1.96V467.6ZM113.12 467.6V372.48h1.96V467.6ZM115.08 467.6V373.2h1.96V467.6ZM117.04 467.6V373.91h1.96V467.6ZM119 467.6V374.91h1.96V467.6ZM120.96 467.6V376.06h1.96V467.6ZM122.92 467.6V377.78h1.96V467.6ZM124.88 467.6V378.92h1.96V467.6ZM126.84 467.6V380.35h1.96V467.6ZM128.8 467.6V381.49h1.96V467.6ZM130.76 467.6V382.93h1.96V467.6ZM132.72 467.6V384.36h1.96V467.6ZM134.68 467.6V385.36h1.96V467.6ZM136.64 467.6V386.79h1.96V467.6ZM138.6 467.6V387.79h1.96V467.6ZM140.56 467.6V387.22h1.96V467.6ZM142.52 467.6V393.23h1.96V467.6ZM144.48 467.6V393.23h1.96V467.6ZM146.44 467.6V394.37h1.96V467.6ZM148.4 467.6V397.23h1.96V467.6ZM150.36 467.6V398.95h1.96V467.6ZM152.32 467.6V400.86h1.96V467.6ZM154.28 467.6V401.58h1.96V467.6ZM156.24 467.6V402.01h1.96V467.6ZM158.2 467.6V405.87h1.96V467.6ZM160.16 467.6V404.44h1.96V467.6ZM162.12 467.6V408.3h1.96V467.6ZM164.08 467.6V408.73h1.96V467.6ZM166.04 467.6V411.59h1.96V467.6ZM168 467.6V413.02h1.96V467.6ZM169.96 467.6V415.17h1.96V467.6ZM171.92 467.6V424.04h1.96V467.6ZM173.88 467.6V420.18h1.96V467.6ZM175.84 467.6V418.32h1.96V467.6ZM177.8 467.6V429.19h1.96V467.6ZM179.76 467.6V425.47h1.96V467.6ZM181.72 467.6V426.33h1.96V467.6ZM183.68 467.6V444.93h1.96V467.6ZM185.64 467.6V434.48h1.96V467.6ZM187.6 467.6V425.18h1.96V467.6ZM189.56 467.6V430.62h1.96V467.6ZM191.52 467.6V440.92h1.96V467.6ZM193.48 467.6V457.37h1.96V467.6ZM197.4 467.6V435.48h1.96V467.6ZM201.32 467.6V440.2h1.96V467.6ZM203.28 467.6V437.77h1.96V467.6ZM207.2 467.6V443.07h1.96V467.6Z" fill="none" stroke="#000" stroke-width="0.35" stroke-opacity="0.55" mask="url(#mbf)"/>
<path d="M38.64 454.94h1.96M40.6 445.5h1.96M42.56 439.2h1.96M44.52 431.19h1.96M46.48 422.32h1.96M48.44 416.31h1.96M50.4 411.16h1.96M52.36 401.09h1.96M54.32 395.37h1.96M56.28 391.08h1.96M58.24 385.79h1.96M60.2 382.07h1.96M62.16 378.2h1.96M64.12 374.91h1.96M66.08 372.91h1.96M68.04 371.05h1.96M70 369.62h1.96M71.96 368.62h1.96M73.92 367.76h1.96M75.88 367.19h1.96M77.84 366.9h1.96M79.8 366.76h1.96M81.76 366.76h1.96M83.72 366.9h1.96M85.68 367.19h1.96M87.64 367.47h1.96M89.6 367.76h1.96M91.56 367.47h1.96M93.52 367.19h1.96M95.48 367.19h1.96M97.44 367.47h1.96M99.4 367.76h1.96M101.36 368.19h1.96M103.32 368.62h1.96M105.28 369.19h1.96M107.24 370.05h1.96M109.2 371.05h1.96M111.16 371.77h1.96M113.12 372.48h1.96M115.08 373.2h1.96M117.04 373.91h1.96M119 374.91h1.96M120.96 376.06h1.96M122.92 377.78h1.96M124.88 378.92h1.96M126.84 380.35h1.96M128.8 381.49h1.96M130.76 382.93h1.96M132.72 384.36h1.96M134.68 385.36h1.96M136.64 386.79h1.96M138.6 387.79h1.96M140.56 387.22h1.96M142.52 393.23h1.96M144.48 393.23h1.96M146.44 394.37h1.96M148.4 397.23h1.96M150.36 398.95h1.96M152.32 400.86h1.96M154.28 401.58h1.96M156.24 402.01h1.96M158.2 405.87h1.96M160.16 404.44h1.96M162.12 408.3h1.96M164.08 408.73h1.96M166.04 411.59h1.96M168 413.02h1.96M169.96 415.17h1.96M171.92 424.04h1.96M173.88 420.18h1.96M175.84 418.32h1.96M177.8 429.19h1.96M179.76 425.47h1.96M181.72 426.33h1.96M183.68 444.93h1.96M185.64 434.48h1.96M187.6 425.18h1.96M189.56 430.62h1.96M191.52 440.92h1.96M193.48 457.37h1.96M197.4 435.48h1.96M201.32 440.2h1.96M203.28 437.77h1.96M207.2 443.07h1.96" fill="none" stroke="#000" stroke-width="0.45" stroke-opacity="0.4"/>
<mask id="mf" maskUnits="userSpaceOnUse" x="0" y="0" width="685" height="492"><rect width="685" height="492" fill="#fff"/><path d="M38.64 467.6V454.94h1.96V467.6ZM40.6 467.6V445.5h1.96V467.6ZM42.56 467.6V439.2h1.96V467.6ZM44.52 467.6V431.19h1.96V467.6ZM46.48 467.6V422.32h1.96V467.6ZM48.44 467.6V416.31h1.96V467.6ZM50.4 467.6V411.16h1.96V467.6ZM52.36 467.6V401.09h1.96V467.6ZM54.32 467.6V395.37h1.96V467.6ZM56.28 467.6V391.08h1.96V467.6ZM58.24 467.6V385.79h1.96V467.6ZM60.2 467.6V382.07h1.96V467.6ZM62.16 467.6V378.2h1.96V467.6ZM64.12 467.6V374.91h1.96V467.6ZM66.08 467.6V372.91h1.96V467.6ZM68.04 467.6V371.05h1.96V467.6ZM70 467.6V369.62h1.96V467.6ZM71.96 467.6V368.62h1.96V467.6ZM73.92 467.6V367.76h1.96V467.6ZM75.88 467.6V367.19h1.96V467.6ZM77.84 467.6V366.9h1.96V467.6ZM79.8 467.6V366.76h1.96V467.6ZM81.76 467.6V366.76h1.96V467.6ZM83.72 467.6V366.9h1.96V467.6ZM85.68 467.6V367.19h1.96V467.6ZM87.64 467.6V367.47h1.96V467.6ZM89.6 467.6V367.76h1.96V467.6ZM91.56 467.6V367.47h1.96V467.6ZM93.52 467.6V367.19h1.96V467.6ZM95.48 467.6V367.19h1.96V467.6ZM97.44 467.6V367.47h1.96V467.6ZM99.4 467.6V367.76h1.96V467.6ZM101.36 467.6V368.19h1.96V467.6ZM103.32 467.6V368.62h1.96V467.6ZM105.28 467.6V369.19h1.96V467.6ZM107.24 467.6V370.05h1.96V467.6ZM109.2 467.6V371.05h1.96V467.6ZM111.16 467.6V371.77h1.96V467.6ZM113.12 467.6V372.48h1.96V467.6ZM115.08 467.6V373.2h1.96V467.6ZM117.04 467.6V373.91h1.96V467.6ZM119 467.6V374.91h1.96V467.6ZM120.96 467.6V376.06h1.96V467.6ZM122.92 467.6V377.78h1.96V467.6ZM124.88 467.6V378.92h1.96V467.6ZM126.84 467.6V380.35h1.96V467.6ZM128.8 467.6V381.49h1.96V467.6ZM130.76 467.6V382.93h1.96V467.6ZM132.72 467.6V384.36h1.96V467.6ZM134.68 467.6V385.36h1.96V467.6ZM136.64 467.6V386.79h1.96V467.6ZM138.6 467.6V387.79h1.96V467.6ZM140.56 467.6V387.22h1.96V467.6ZM142.52 467.6V393.23h1.96V467.6ZM144.48 467.6V393.23h1.96V467.6ZM146.44 467.6V394.37h1.96V467.6ZM148.4 467.6V397.23h1.96V467.6ZM150.36 467.6V398.95h1.96V467.6ZM152.32 467.6V400.86h1.96V467.6ZM154.28 467.6V401.58h1.96V467.6ZM156.24 467.6V402.01h1.96V467.6ZM158.2 467.6V405.87h1.96V467.6ZM160.16 467.6V404.44h1.96V467.6ZM162.12 467.6V408.3h1.96V467.6ZM164.08 467.6V408.73h1.96V467.6ZM166.04 467.6V411.59h1.96V467.6ZM168 467.6V413.02h1.96V467.6ZM169.96 467.6V415.17h1.96V467.6ZM171.92 467.6V424.04h1.96V467.6ZM173.88 467.6V420.18h1.96V467.6ZM175.84 467.6V418.32h1.96V467.6ZM177.8 467.6V429.19h1.96V467.6ZM179.76 467.6V425.47h1.96V467.6ZM181.72 467.6V426.33h1.96V467.6ZM183.68 467.6V444.93h1.96V467.6ZM185.64 467.6V434.48h1.96V467.6ZM187.6 467.6V425.18h1.96V467.6ZM189.56 467.6V430.62h1.96V467.6ZM191.52 467.6V440.92h1.96V467.6ZM193.48 467.6V457.37h1.96V467.6ZM197.4 467.6V435.48h1.96V467.6ZM201.32 467.6V440.2h1.96V467.6ZM203.28 467.6V437.77h1.96V467.6ZM207.2 467.6V443.07h1.96V467.6Z" fill="#444" stroke="#444" stroke-width="0.4"/></mask>
<path d="M56.28 467.6V446.36h1.96V467.6ZM58.24 467.6V442.06h1.96V467.6ZM60.2 467.6V443.07h1.96V467.6ZM62.16 467.6V425.47h1.96V467.6ZM64.12 467.6V423.04h1.96V467.6ZM66.08 467.6V419.46h1.96V467.6ZM68.04 467.6V416.31h1.96V467.6ZM70 467.6V414.45h1.96V467.6ZM71.96 467.6V414.02h1.96V467.6ZM73.92 467.6V413.74h1.96V467.6ZM75.88 467.6V414.02h1.96V467.6ZM77.84 467.6V414.45h1.96V467.6ZM79.8 467.6V416.6h1.96V467.6ZM81.76 467.6V420.18h1.96V467.6ZM83.72 467.6V422.32h1.96V467.6ZM85.68 467.6V424.04h1.96V467.6ZM87.64 467.6V428.76h1.96V467.6ZM89.6 467.6V421.18h1.96V467.6ZM91.56 467.6V429.76h1.96V467.6ZM93.52 467.6V436.34h1.96V467.6ZM95.48 467.6V440.92h1.96V467.6ZM97.44 467.6V448.36h1.96V467.6ZM99.4 467.6V438.77h1.96V467.6ZM101.36 467.6V460.95h1.96V467.6ZM103.32 467.6V465.24h1.96V467.6ZM105.28 467.6V448.36h1.96V467.6Z" fill="#0000ff" fill-opacity="0.6"/>
<path d="M56.28 467.6V446.36h1.96V467.6ZM58.24 467.6V442.06h1.96V467.6ZM60.2 467.6V443.07h1.96V467.6ZM62.16 467.6V425.47h1.96V467.6ZM64.12 467.6V423.04h1.96V467.6ZM66.08 467.6V419.46h1.96V467.6ZM68.04 467.6V416.31h1.96V467.6ZM70 467.6V414.45h1.96V467.6ZM71.96 467.6V414.02h1.96V467.6ZM73.92 467.6V413.74h1.96V467.6ZM75.88 467.6V414.02h1.96V467.6ZM77.84 467.6V414.45h1.96V467.6ZM79.8 467.6V416.6h1.96V467.6ZM81.76 467.6V420.18h1.96V467.6ZM83.72 467.6V422.32h1.96V467.6ZM85.68 467.6V424.04h1.96V467.6ZM87.64 467.6V428.76h1.96V467.6ZM89.6 467.6V421.18h1.96V467.6ZM91.56 467.6V429.76h1.96V467.6ZM93.52 467.6V436.34h1.96V467.6ZM95.48 467.6V440.92h1.96V467.6ZM97.44 467.6V448.36h1.96V467.6ZM99.4 467.6V438.77h1.96V467.6ZM101.36 467.6V460.95h1.96V467.6ZM103.32 467.6V465.24h1.96V467.6ZM105.28 467.6V448.36h1.96V467.6Z" fill="none" stroke="#000" stroke-width="0.35" stroke-opacity="0.55" mask="url(#mf)"/>
<path d="M56.28 446.36h1.96M58.24 442.06h1.96M60.2 443.07h1.96M62.16 425.47h1.96M64.12 423.04h1.96M66.08 419.46h1.96M68.04 416.31h1.96M70 414.45h1.96M71.96 414.02h1.96M73.92 413.74h1.96M75.88 414.02h1.96M77.84 414.45h1.96M79.8 416.6h1.96M81.76 420.18h1.96M83.72 422.32h1.96M85.68 424.04h1.96M87.64 428.76h1.96M89.6 421.18h1.96M91.56 429.76h1.96M93.52 436.34h1.96M95.48 440.92h1.96M97.44 448.36h1.96M99.4 438.77h1.96M101.36 460.95h1.96M103.32 465.24h1.96M105.28 448.36h1.96" fill="none" stroke="#000" stroke-width="0.45" stroke-opacity="0.4"/>
<rect x="25.9" y="336.5" width="196" height="131.1" fill="none" stroke="#222" stroke-width="1"/>
<path d="M25.9 467.6v-2.2M25.9 336.5v2.2M65.1 467.6v-2.2M65.1 336.5v2.2M104.3 467.6v-2.2M104.3 336.5v2.2M143.5 467.6v-2.2M143.5 336.5v2.2M182.7 467.6v-2.2M182.7 336.5v2.2M221.9 467.6v-2.2M221.9 336.5v2.2M25.9 467.6h3.0M221.9 467.6h-3.0M25.9 461.35h1.4M221.9 461.35h-1.4M25.9 457.7h1.4M221.9 457.7h-1.4M25.9 455.11h1.4M221.9 455.11h-1.4M25.9 453.1h1.4M221.9 453.1h-1.4M25.9 451.45h1.4M221.9 451.45h-1.4M25.9 450.06h1.4M221.9 450.06h-1.4M25.9 448.86h1.4M221.9 448.86h-1.4M25.9 447.8h1.4M221.9 447.8h-1.4M25.9 446.85h2.2M221.9 446.85h-2.2M25.9 440.6h1.4M221.9 440.6h-1.4M25.9 436.95h1.4M221.9 436.95h-1.4M25.9 434.36h1.4M221.9 434.36h-1.4M25.9 432.35h1.4M221.9 432.35h-1.4M25.9 430.7h1.4M221.9 430.7h-1.4M25.9 429.31h1.4M221.9 429.31h-1.4M25.9 428.11h1.4M221.9 428.11h-1.4M25.9 427.05h1.4M221.9 427.05h-1.4M25.9 426.1h3.0M221.9 426.1h-3.0M25.9 419.85h1.4M221.9 419.85h-1.4M25.9 416.2h1.4M221.9 416.2h-1.4M25.9 413.61h1.4M221.9 413.61h-1.4M25.9 411.6h1.4M221.9 411.6h-1.4M25.9 409.95h1.4M221.9 409.95h-1.4M25.9 408.56h1.4M221.9 408.56h-1.4M25.9 407.36h1.4M221.9 407.36h-1.4M25.9 406.3h1.4M221.9 406.3h-1.4M25.9 405.35h2.2M221.9 405.35h-2.2M25.9 399.1h1.4M221.9 399.1h-1.4M25.9 395.45h1.4M221.9 395.45h-1.4M25.9 392.86h1.4M221.9 392.86h-1.4M25.9 390.85h1.4M221.9 390.85h-1.4M25.9 389.2h1.4M221.9 389.2h-1.4M25.9 387.81h1.4M221.9 387.81h-1.4M25.9 386.61h1.4M221.9 386.61h-1.4M25.9 385.55h1.4M221.9 385.55h-1.4M25.9 384.6h3.0M221.9 384.6h-3.0M25.9 378.35h1.4M221.9 378.35h-1.4M25.9 374.7h1.4M221.9 374.7h-1.4M25.9 372.11h1.4M221.9 372.11h-1.4M25.9 370.1h1.4M221.9 370.1h-1.4M25.9 368.45h1.4M221.9 368.45h-1.4M25.9 367.06h1.4M221.9 367.06h-1.4M25.9 365.86h1.4M221.9 365.86h-1.4M25.9 364.8h1.4M221.9 364.8h-1.4M25.9 363.85h2.2M221.9 363.85h-2.2M25.9 357.6h1.4M221.9 357.6h-1.4M25.9 353.95h1.4M221.9 353.95h-1.4M25.9 351.36h1.4M221.9 351.36h-1.4M25.9 349.35h1.4M221.9 349.35h-1.4M25.9 347.7h1.4M221.9 347.7h-1.4M25.9 346.31h1.4M221.9 346.31h-1.4M25.9 345.11h1.4M221.9 345.11h-1.4M25.9 344.05h1.4M221.9 344.05h-1.4M25.9 343.1h3.0M221.9 343.1h-3.0" stroke="#222" stroke-width="0.8" fill="none"/>
<g class="tb" font-size="9.6"><text x="25.9" y="478.9" text-anchor="middle">-2</text><text x="65.1" y="478.9" text-anchor="middle">0</text><text x="104.3" y="478.9" text-anchor="middle">2</text><text x="143.5" y="478.9" text-anchor="middle">4</text><text x="182.7" y="478.9" text-anchor="middle">6</text><text x="221.9" y="478.9" text-anchor="middle">8</text><text x="20" y="471.9" text-anchor="end">10</text><text x="19.6" y="467.3" font-size="7">0</text><text x="20" y="430.4" text-anchor="end">10</text><text x="19.6" y="425.8" font-size="7">2</text><text x="20" y="388.9" text-anchor="end">10</text><text x="19.6" y="384.3" font-size="7">4</text><text x="20" y="347.4" text-anchor="end">10</text><text x="19.6" y="342.8" font-size="7">6</text></g>
<text x="123.9" y="489.7" text-anchor="middle" class="tb" font-size="9.7">Magnitude</text>
<text transform="translate(6.8,402.05) rotate(-90)" text-anchor="middle" class="tb" font-size="9.7">No. of events</text>
<text transform="translate(30.8,354.2) scale(1.0,1)" font-family="Liberation Serif" font-size="18.2">f)</text>
<text transform="translate(99.9,348.65) scale(0.957,1)" text-anchor="start" class="ds" font-size="9.9">Jan 01, 2013–Dec 31, 2013</text>
<path d="M316.38 467.6V450h1.96V467.6ZM320.3 467.6V457.5h1.96V467.6ZM322.26 467.6V432.3h1.96V467.6ZM324.22 467.6V421.2h1.96V467.6ZM326.18 467.6V398.2h1.96V467.6ZM328.14 467.6V371.77h1.96V467.6ZM330.1 467.6V370.62h1.96V467.6ZM332.06 467.6V371.05h1.96V467.6ZM334.02 467.6V371.77h1.96V467.6ZM335.98 467.6V372.91h1.96V467.6ZM337.94 467.6V373.91h1.96V467.6ZM339.9 467.6V374.91h1.96V467.6ZM341.86 467.6V376.06h1.96V467.6ZM343.82 467.6V377.2h1.96V467.6ZM345.78 467.6V378.2h1.96V467.6ZM347.74 467.6V379.21h1.96V467.6ZM349.7 467.6V380.35h1.96V467.6ZM351.66 467.6V381.49h1.96V467.6ZM353.62 467.6V383.21h1.96V467.6ZM355.58 467.6V384.93h1.96V467.6ZM357.54 467.6V386.07h1.96V467.6ZM359.5 467.6V386.36h1.96V467.6ZM361.46 467.6V387.22h1.96V467.6ZM363.42 467.6V387.79h1.96V467.6ZM365.38 467.6V389.22h1.96V467.6ZM367.34 467.6V390.36h1.96V467.6ZM369.3 467.6V391.08h1.96V467.6ZM371.26 467.6V391.8h1.96V467.6ZM373.22 467.6V393.94h1.96V467.6ZM375.18 467.6V396.09h1.96V467.6ZM377.14 467.6V399.72h1.96V467.6ZM379.1 467.6V401.15h1.96V467.6ZM381.06 467.6V402.58h1.96V467.6ZM383.02 467.6V408.3h1.96V467.6ZM384.98 467.6V405.87h1.96V467.6ZM386.94 467.6V407.3h1.96V467.6ZM388.9 467.6V410.59h1.96V467.6ZM390.86 467.6V413.02h1.96V467.6ZM392.82 467.6V412.59h1.96V467.6ZM394.78 467.6V415.45h1.96V467.6ZM396.74 467.6V413.45h1.96V467.6ZM398.7 467.6V416.88h1.96V467.6ZM400.66 467.6V415.88h1.96V467.6ZM402.62 467.6V427.33h1.96V467.6ZM404.58 467.6V421.61h1.96V467.6ZM406.54 467.6V428.76h1.96V467.6ZM408.5 467.6V434.48h1.96V467.6ZM410.46 467.6V426.61h1.96V467.6ZM412.42 467.6V429.19h1.96V467.6ZM414.38 467.6V429.76h1.96V467.6ZM416.34 467.6V442.35h1.96V467.6ZM418.3 467.6V456.94h1.96V467.6ZM420.26 467.6V453.08h1.96V467.6ZM424.18 467.6V430.62h1.96V467.6ZM437.9 467.6V454.94h1.96V467.6ZM439.86 467.6V443.07h1.96V467.6Z" fill="#ff0000" fill-opacity="0.6"/>
<mask id="mbg" maskUnits="userSpaceOnUse" x="0" y="0" width="685" height="492"><rect width="685" height="492" fill="#fff"/><path d="M286.98 467.6V454.9h1.96V467.6ZM288.94 467.6V460.9h1.96V467.6ZM290.9 467.6V445.2h1.96V467.6ZM292.86 467.6V433.8h1.96V467.6ZM294.82 467.6V425.2h1.96V467.6ZM296.78 467.6V424h1.96V467.6ZM298.74 467.6V420.2h1.96V467.6ZM300.7 467.6V416.6h1.96V467.6ZM302.66 467.6V413.5h1.96V467.6ZM304.62 467.6V417.3h1.96V467.6ZM306.58 467.6V415.9h1.96V467.6ZM308.54 467.6V415.9h1.96V467.6ZM310.5 467.6V417.1h1.96V467.6ZM312.46 467.6V422.1h1.96V467.6ZM314.42 467.6V420.8h1.96V467.6ZM316.38 467.6V430.4h1.96V467.6ZM318.34 467.6V427.5h1.96V467.6ZM320.3 467.6V439.4h1.96V467.6ZM322.26 467.6V433.9h1.96V467.6ZM324.22 467.6V447.3h1.96V467.6ZM326.18 467.6V448.4h1.96V467.6ZM328.14 467.6V443.2h1.96V467.6ZM334.02 467.6V465h1.96V467.6ZM335.98 467.6V446.3h1.96V467.6ZM337.94 467.6V443.5h1.96V467.6Z" fill="#666"/></mask>
<path d="M316.38 467.6V450h1.96V467.6ZM320.3 467.6V457.5h1.96V467.6ZM322.26 467.6V432.3h1.96V467.6ZM324.22 467.6V421.2h1.96V467.6ZM326.18 467.6V398.2h1.96V467.6ZM328.14 467.6V371.77h1.96V467.6ZM330.1 467.6V370.62h1.96V467.6ZM332.06 467.6V371.05h1.96V467.6ZM334.02 467.6V371.77h1.96V467.6ZM335.98 467.6V372.91h1.96V467.6ZM337.94 467.6V373.91h1.96V467.6ZM339.9 467.6V374.91h1.96V467.6ZM341.86 467.6V376.06h1.96V467.6ZM343.82 467.6V377.2h1.96V467.6ZM345.78 467.6V378.2h1.96V467.6ZM347.74 467.6V379.21h1.96V467.6ZM349.7 467.6V380.35h1.96V467.6ZM351.66 467.6V381.49h1.96V467.6ZM353.62 467.6V383.21h1.96V467.6ZM355.58 467.6V384.93h1.96V467.6ZM357.54 467.6V386.07h1.96V467.6ZM359.5 467.6V386.36h1.96V467.6ZM361.46 467.6V387.22h1.96V467.6ZM363.42 467.6V387.79h1.96V467.6ZM365.38 467.6V389.22h1.96V467.6ZM367.34 467.6V390.36h1.96V467.6ZM369.3 467.6V391.08h1.96V467.6ZM371.26 467.6V391.8h1.96V467.6ZM373.22 467.6V393.94h1.96V467.6ZM375.18 467.6V396.09h1.96V467.6ZM377.14 467.6V399.72h1.96V467.6ZM379.1 467.6V401.15h1.96V467.6ZM381.06 467.6V402.58h1.96V467.6ZM383.02 467.6V408.3h1.96V467.6ZM384.98 467.6V405.87h1.96V467.6ZM386.94 467.6V407.3h1.96V467.6ZM388.9 467.6V410.59h1.96V467.6ZM390.86 467.6V413.02h1.96V467.6ZM392.82 467.6V412.59h1.96V467.6ZM394.78 467.6V415.45h1.96V467.6ZM396.74 467.6V413.45h1.96V467.6ZM398.7 467.6V416.88h1.96V467.6ZM400.66 467.6V415.88h1.96V467.6ZM402.62 467.6V427.33h1.96V467.6ZM404.58 467.6V421.61h1.96V467.6ZM406.54 467.6V428.76h1.96V467.6ZM408.5 467.6V434.48h1.96V467.6ZM410.46 467.6V426.61h1.96V467.6ZM412.42 467.6V429.19h1.96V467.6ZM414.38 467.6V429.76h1.96V467.6ZM416.34 467.6V442.35h1.96V467.6ZM418.3 467.6V456.94h1.96V467.6ZM420.26 467.6V453.08h1.96V467.6ZM424.18 467.6V430.62h1.96V467.6ZM437.9 467.6V454.94h1.96V467.6ZM439.86 467.6V443.07h1.96V467.6Z" fill="none" stroke="#000" stroke-width="0.35" stroke-opacity="0.55" mask="url(#mbg)"/>
<path d="M316.38 450h1.96M320.3 457.5h1.96M322.26 432.3h1.96M324.22 421.2h1.96M326.18 398.2h1.96M328.14 371.77h1.96M330.1 370.62h1.96M332.06 371.05h1.96M334.02 371.77h1.96M335.98 372.91h1.96M337.94 373.91h1.96M339.9 374.91h1.96M341.86 376.06h1.96M343.82 377.2h1.96M345.78 378.2h1.96M347.74 379.21h1.96M349.7 380.35h1.96M351.66 381.49h1.96M353.62 383.21h1.96M355.58 384.93h1.96M357.54 386.07h1.96M359.5 386.36h1.96M361.46 387.22h1.96M363.42 387.79h1.96M365.38 389.22h1.96M367.34 390.36h1.96M369.3 391.08h1.96M371.26 391.8h1.96M373.22 393.94h1.96M375.18 396.09h1.96M377.14 399.72h1.96M379.1 401.15h1.96M381.06 402.58h1.96M383.02 408.3h1.96M384.98 405.87h1.96M386.94 407.3h1.96M388.9 410.59h1.96M390.86 413.02h1.96M392.82 412.59h1.96M394.78 415.45h1.96M396.74 413.45h1.96M398.7 416.88h1.96M400.66 415.88h1.96M402.62 427.33h1.96M404.58 421.61h1.96M406.54 428.76h1.96M408.5 434.48h1.96M410.46 426.61h1.96M412.42 429.19h1.96M414.38 429.76h1.96M416.34 442.35h1.96M418.3 456.94h1.96M420.26 453.08h1.96M424.18 430.62h1.96M437.9 454.94h1.96M439.86 443.07h1.96" fill="none" stroke="#000" stroke-width="0.45" stroke-opacity="0.4"/>
<mask id="mg" maskUnits="userSpaceOnUse" x="0" y="0" width="685" height="492"><rect width="685" height="492" fill="#fff"/><path d="M316.38 467.6V450h1.96V467.6ZM320.3 467.6V457.5h1.96V467.6ZM322.26 467.6V432.3h1.96V467.6ZM324.22 467.6V421.2h1.96V467.6ZM326.18 467.6V398.2h1.96V467.6ZM328.14 467.6V371.77h1.96V467.6ZM330.1 467.6V370.62h1.96V467.6ZM332.06 467.6V371.05h1.96V467.6ZM334.02 467.6V371.77h1.96V467.6ZM335.98 467.6V372.91h1.96V467.6ZM337.94 467.6V373.91h1.96V467.6ZM339.9 467.6V374.91h1.96V467.6ZM341.86 467.6V376.06h1.96V467.6ZM343.82 467.6V377.2h1.96V467.6ZM345.78 467.6V378.2h1.96V467.6ZM347.74 467.6V379.21h1.96V467.6ZM349.7 467.6V380.35h1.96V467.6ZM351.66 467.6V381.49h1.96V467.6ZM353.62 467.6V383.21h1.96V467.6ZM355.58 467.6V384.93h1.96V467.6ZM357.54 467.6V386.07h1.96V467.6ZM359.5 467.6V386.36h1.96V467.6ZM361.46 467.6V387.22h1.96V467.6ZM363.42 467.6V387.79h1.96V467.6ZM365.38 467.6V389.22h1.96V467.6ZM367.34 467.6V390.36h1.96V467.6ZM369.3 467.6V391.08h1.96V467.6ZM371.26 467.6V391.8h1.96V467.6ZM373.22 467.6V393.94h1.96V467.6ZM375.18 467.6V396.09h1.96V467.6ZM377.14 467.6V399.72h1.96V467.6ZM379.1 467.6V401.15h1.96V467.6ZM381.06 467.6V402.58h1.96V467.6ZM383.02 467.6V408.3h1.96V467.6ZM384.98 467.6V405.87h1.96V467.6ZM386.94 467.6V407.3h1.96V467.6ZM388.9 467.6V410.59h1.96V467.6ZM390.86 467.6V413.02h1.96V467.6ZM392.82 467.6V412.59h1.96V467.6ZM394.78 467.6V415.45h1.96V467.6ZM396.74 467.6V413.45h1.96V467.6ZM398.7 467.6V416.88h1.96V467.6ZM400.66 467.6V415.88h1.96V467.6ZM402.62 467.6V427.33h1.96V467.6ZM404.58 467.6V421.61h1.96V467.6ZM406.54 467.6V428.76h1.96V467.6ZM408.5 467.6V434.48h1.96V467.6ZM410.46 467.6V426.61h1.96V467.6ZM412.42 467.6V429.19h1.96V467.6ZM414.38 467.6V429.76h1.96V467.6ZM416.34 467.6V442.35h1.96V467.6ZM418.3 467.6V456.94h1.96V467.6ZM420.26 467.6V453.08h1.96V467.6ZM424.18 467.6V430.62h1.96V467.6ZM437.9 467.6V454.94h1.96V467.6ZM439.86 467.6V443.07h1.96V467.6Z" fill="#444" stroke="#444" stroke-width="0.4"/></mask>
<path d="M286.98 467.6V454.9h1.96V467.6ZM288.94 467.6V460.9h1.96V467.6ZM290.9 467.6V445.2h1.96V467.6ZM292.86 467.6V433.8h1.96V467.6ZM294.82 467.6V425.2h1.96V467.6ZM296.78 467.6V424h1.96V467.6ZM298.74 467.6V420.2h1.96V467.6ZM300.7 467.6V416.6h1.96V467.6ZM302.66 467.6V413.5h1.96V467.6ZM304.62 467.6V417.3h1.96V467.6ZM306.58 467.6V415.9h1.96V467.6ZM308.54 467.6V415.9h1.96V467.6ZM310.5 467.6V417.1h1.96V467.6ZM312.46 467.6V422.1h1.96V467.6ZM314.42 467.6V420.8h1.96V467.6ZM316.38 467.6V430.4h1.96V467.6ZM318.34 467.6V427.5h1.96V467.6ZM320.3 467.6V439.4h1.96V467.6ZM322.26 467.6V433.9h1.96V467.6ZM324.22 467.6V447.3h1.96V467.6ZM326.18 467.6V448.4h1.96V467.6ZM328.14 467.6V443.2h1.96V467.6ZM334.02 467.6V465h1.96V467.6ZM335.98 467.6V446.3h1.96V467.6ZM337.94 467.6V443.5h1.96V467.6Z" fill="#0000ff" fill-opacity="0.6"/>
<path d="M286.98 467.6V454.9h1.96V467.6ZM288.94 467.6V460.9h1.96V467.6ZM290.9 467.6V445.2h1.96V467.6ZM292.86 467.6V433.8h1.96V467.6ZM294.82 467.6V425.2h1.96V467.6ZM296.78 467.6V424h1.96V467.6ZM298.74 467.6V420.2h1.96V467.6ZM300.7 467.6V416.6h1.96V467.6ZM302.66 467.6V413.5h1.96V467.6ZM304.62 467.6V417.3h1.96V467.6ZM306.58 467.6V415.9h1.96V467.6ZM308.54 467.6V415.9h1.96V467.6ZM310.5 467.6V417.1h1.96V467.6ZM312.46 467.6V422.1h1.96V467.6ZM314.42 467.6V420.8h1.96V467.6ZM316.38 467.6V430.4h1.96V467.6ZM318.34 467.6V427.5h1.96V467.6ZM320.3 467.6V439.4h1.96V467.6ZM322.26 467.6V433.9h1.96V467.6ZM324.22 467.6V447.3h1.96V467.6ZM326.18 467.6V448.4h1.96V467.6ZM328.14 467.6V443.2h1.96V467.6ZM334.02 467.6V465h1.96V467.6ZM335.98 467.6V446.3h1.96V467.6ZM337.94 467.6V443.5h1.96V467.6Z" fill="none" stroke="#000" stroke-width="0.35" stroke-opacity="0.55" mask="url(#mg)"/>
<path d="M286.98 454.9h1.96M288.94 460.9h1.96M290.9 445.2h1.96M292.86 433.8h1.96M294.82 425.2h1.96M296.78 424h1.96M298.74 420.2h1.96M300.7 416.6h1.96M302.66 413.5h1.96M304.62 417.3h1.96M306.58 415.9h1.96M308.54 415.9h1.96M310.5 417.1h1.96M312.46 422.1h1.96M314.42 420.8h1.96M316.38 430.4h1.96M318.34 427.5h1.96M320.3 439.4h1.96M322.26 433.9h1.96M324.22 447.3h1.96M326.18 448.4h1.96M328.14 443.2h1.96M334.02 465h1.96M335.98 446.3h1.96M337.94 443.5h1.96" fill="none" stroke="#000" stroke-width="0.45" stroke-opacity="0.4"/>
<rect x="256.6" y="336.5" width="196" height="131.1" fill="none" stroke="#222" stroke-width="1"/>
<path d="M256.6 467.6v-2.2M256.6 336.5v2.2M295.8 467.6v-2.2M295.8 336.5v2.2M335 467.6v-2.2M335 336.5v2.2M374.2 467.6v-2.2M374.2 336.5v2.2M413.4 467.6v-2.2M413.4 336.5v2.2M452.6 467.6v-2.2M452.6 336.5v2.2M256.6 467.6h3.0M452.6 467.6h-3.0M256.6 461.35h1.4M452.6 461.35h-1.4M256.6 457.7h1.4M452.6 457.7h-1.4M256.6 455.11h1.4M452.6 455.11h-1.4M256.6 453.1h1.4M452.6 453.1h-1.4M256.6 451.45h1.4M452.6 451.45h-1.4M256.6 450.06h1.4M452.6 450.06h-1.4M256.6 448.86h1.4M452.6 448.86h-1.4M256.6 447.8h1.4M452.6 447.8h-1.4M256.6 446.85h2.2M452.6 446.85h-2.2M256.6 440.6h1.4M452.6 440.6h-1.4M256.6 436.95h1.4M452.6 436.95h-1.4M256.6 434.36h1.4M452.6 434.36h-1.4M256.6 432.35h1.4M452.6 432.35h-1.4M256.6 430.7h1.4M452.6 430.7h-1.4M256.6 429.31h1.4M452.6 429.31h-1.4M256.6 428.11h1.4M452.6 428.11h-1.4M256.6 427.05h1.4M452.6 427.05h-1.4M256.6 426.1h3.0M452.6 426.1h-3.0M256.6 419.85h1.4M452.6 419.85h-1.4M256.6 416.2h1.4M452.6 416.2h-1.4M256.6 413.61h1.4M452.6 413.61h-1.4M256.6 411.6h1.4M452.6 411.6h-1.4M256.6 409.95h1.4M452.6 409.95h-1.4M256.6 408.56h1.4M452.6 408.56h-1.4M256.6 407.36h1.4M452.6 407.36h-1.4M256.6 406.3h1.4M452.6 406.3h-1.4M256.6 405.35h2.2M452.6 405.35h-2.2M256.6 399.1h1.4M452.6 399.1h-1.4M256.6 395.45h1.4M452.6 395.45h-1.4M256.6 392.86h1.4M452.6 392.86h-1.4M256.6 390.85h1.4M452.6 390.85h-1.4M256.6 389.2h1.4M452.6 389.2h-1.4M256.6 387.81h1.4M452.6 387.81h-1.4M256.6 386.61h1.4M452.6 386.61h-1.4M256.6 385.55h1.4M452.6 385.55h-1.4M256.6 384.6h3.0M452.6 384.6h-3.0M256.6 378.35h1.4M452.6 378.35h-1.4M256.6 374.7h1.4M452.6 374.7h-1.4M256.6 372.11h1.4M452.6 372.11h-1.4M256.6 370.1h1.4M452.6 370.1h-1.4M256.6 368.45h1.4M452.6 368.45h-1.4M256.6 367.06h1.4M452.6 367.06h-1.4M256.6 365.86h1.4M452.6 365.86h-1.4M256.6 364.8h1.4M452.6 364.8h-1.4M256.6 363.85h2.2M452.6 363.85h-2.2M256.6 357.6h1.4M452.6 357.6h-1.4M256.6 353.95h1.4M452.6 353.95h-1.4M256.6 351.36h1.4M452.6 351.36h-1.4M256.6 349.35h1.4M452.6 349.35h-1.4M256.6 347.7h1.4M452.6 347.7h-1.4M256.6 346.31h1.4M452.6 346.31h-1.4M256.6 345.11h1.4M452.6 345.11h-1.4M256.6 344.05h1.4M452.6 344.05h-1.4M256.6 343.1h3.0M452.6 343.1h-3.0" stroke="#222" stroke-width="0.8" fill="none"/>
<g class="tb" font-size="9.6"><text x="256.6" y="478.9" text-anchor="middle">-2</text><text x="295.8" y="478.9" text-anchor="middle">0</text><text x="335" y="478.9" text-anchor="middle">2</text><text x="374.2" y="478.9" text-anchor="middle">4</text><text x="413.4" y="478.9" text-anchor="middle">6</text><text x="452.6" y="478.9" text-anchor="middle">8</text><text x="250.7" y="471.9" text-anchor="end">10</text><text x="250.3" y="467.3" font-size="7">0</text><text x="250.7" y="430.4" text-anchor="end">10</text><text x="250.3" y="425.8" font-size="7">2</text><text x="250.7" y="388.9" text-anchor="end">10</text><text x="250.3" y="384.3" font-size="7">4</text><text x="250.7" y="347.4" text-anchor="end">10</text><text x="250.3" y="342.8" font-size="7">6</text></g>
<text x="354.6" y="489.7" text-anchor="middle" class="tb" font-size="9.7">Magnitude</text>
<text transform="translate(237.5,402.05) rotate(-90)" text-anchor="middle" class="tb" font-size="9.7">No. of events</text>
<text transform="translate(264.2,354) scale(1.04,1)" font-family="Liberation Serif" font-size="18.2">g)</text>
<text transform="translate(330.6,348.65) scale(0.957,1)" text-anchor="start" class="ds" font-size="9.9">Jan 01, 2022–Sep 31, 2022</text>
<rect x="523" y="59" width="15.8" height="10" fill="#ff0000" fill-opacity="0.6"/>
<rect x="523" y="73.9" width="15.8" height="10" fill="#0000ff" fill-opacity="0.6"/>
<g font-family="Liberation Sans" font-size="10.1" fill="#000"><text x="542.5" y="67.3">Earthquake</text><text x="542.5" y="82.2">Low frequency earthquake</text></g>
</svg>
</body></html>
